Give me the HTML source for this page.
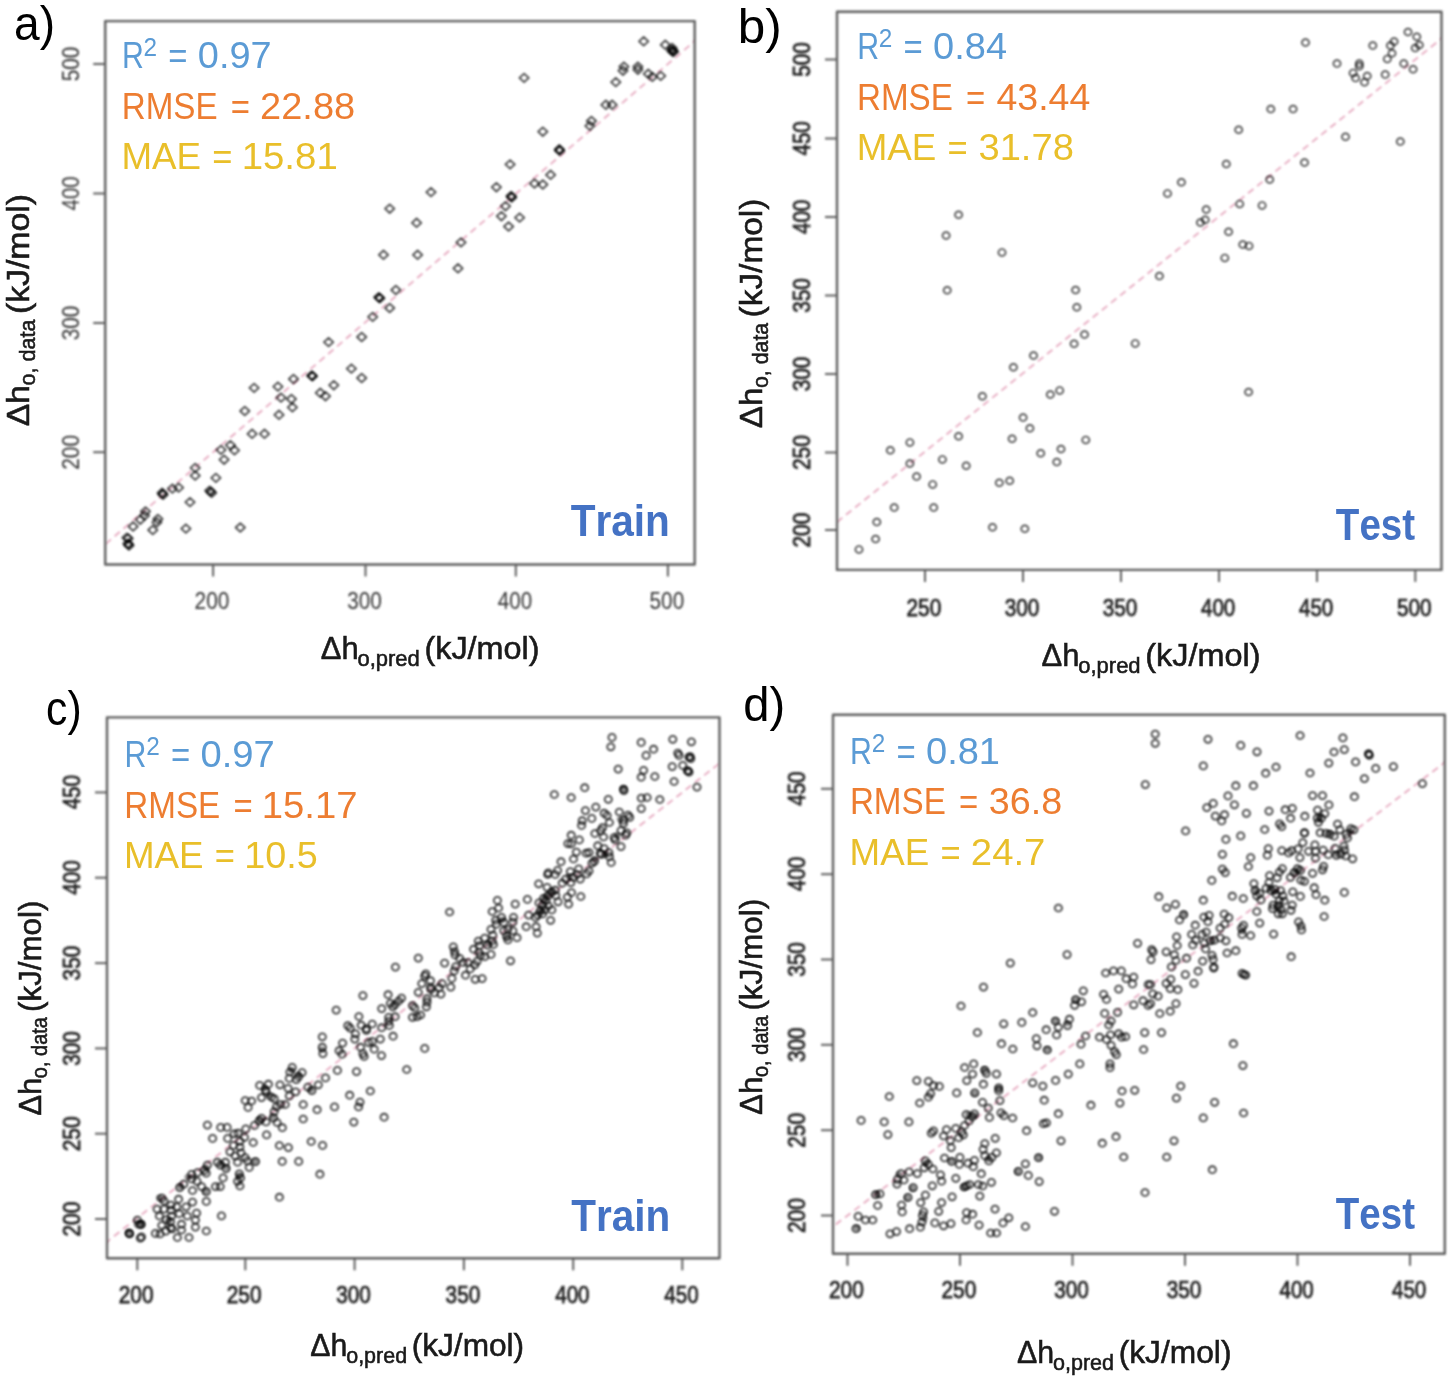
<!DOCTYPE html><html><head><meta charset="utf-8"><style>html,body{margin:0;padding:0;background:#fff;}svg{display:block;}text{font-family:"Liberation Sans", sans-serif;font-kerning:none;}svg{will-change:transform;}</style></head><body>
<svg width="1450" height="1379" viewBox="0 0 1450 1379">
<rect width="1450" height="1379" fill="#fff"/>
<defs><filter id="pb" x="-5%" y="-5%" width="110%" height="110%"><feGaussianBlur stdDeviation="0.9"/></filter><filter id="pl" filterUnits="userSpaceOnUse" x="0" y="0" width="1450" height="1379"><feGaussianBlur stdDeviation="0.9"/></filter></defs>
<defs>
<clipPath id="clipa"><rect x="105.20" y="21.10" width="589.50" height="543.40"/></clipPath>
<clipPath id="clipb"><rect x="837.00" y="11.80" width="604.50" height="558.10"/></clipPath>
<clipPath id="clipc"><rect x="107.00" y="717.40" width="612.50" height="540.90"/></clipPath>
<clipPath id="clipd"><rect x="833.00" y="714.80" width="611.80" height="539.00"/></clipPath>
</defs>
<g clip-path="url(#clipa)"><g filter="url(#pl)"><line x1="-90.10" y1="711.00" x2="971.10" y2="-194.80" stroke="#e6a9bf" stroke-width="1.8" stroke-dasharray="7 4.7"/></g></g>
<g clip-path="url(#clipb)"><g filter="url(#pl)"><line x1="434.75" y1="843.60" x2="1807.45" y2="-254.00" stroke="#e6a9bf" stroke-width="1.8" stroke-dasharray="7 4.7"/></g></g>
<g clip-path="url(#clipc)"><g filter="url(#pl)"><line x1="-301.04" y1="1560.28" x2="1228.60" y2="365.80" stroke="#e6a9bf" stroke-width="1.8" stroke-dasharray="7 4.7"/></g></g>
<g clip-path="url(#clipd)"><g filter="url(#pl)"><line x1="397.50" y1="1556.80" x2="1972.50" y2="362.25" stroke="#e6a9bf" stroke-width="1.8" stroke-dasharray="7 4.7"/></g></g>
<g filter="url(#pb)"><g fill="none" stroke="#000" stroke-opacity="0.72" stroke-width="1.80" stroke-linejoin="round">
<path d="M639.0 41.3L643.7 37.0L648.4 41.3L643.7 45.6Z"/>
<path d="M660.6 44.8L665.3 40.5L670.0 44.8L665.3 49.1Z"/>
<path d="M667.4 47.9L672.1 43.6L676.8 47.9L672.1 52.2Z"/>
<path d="M668.4 52.1L673.1 47.8L677.8 52.1L673.1 56.4Z"/>
<path d="M666.8 50.6L671.5 46.3L676.2 50.6L671.5 54.9Z"/>
<path d="M619.2 66.6L623.9 62.3L628.6 66.6L623.9 70.9Z"/>
<path d="M618.3 70.7L623.0 66.4L627.7 70.7L623.0 75.0Z"/>
<path d="M633.2 66.6L637.9 62.3L642.6 66.6L637.9 70.9Z"/>
<path d="M633.2 69.7L637.9 65.4L642.6 69.7L637.9 74.0Z"/>
<path d="M643.6 73.8L648.3 69.5L653.0 73.8L648.3 78.1Z"/>
<path d="M647.7 76.9L652.4 72.6L657.1 76.9L652.4 81.2Z"/>
<path d="M656.0 75.9L660.7 71.6L665.4 75.9L660.7 80.2Z"/>
<path d="M611.1 82.1L615.8 77.8L620.5 82.1L615.8 86.4Z"/>
<path d="M519.4 77.9L524.1 73.6L528.8 77.9L524.1 82.2Z"/>
<path d="M601.2 104.8L605.9 100.5L610.6 104.8L605.9 109.1Z"/>
<path d="M607.4 104.8L612.1 100.5L616.8 104.8L612.1 109.1Z"/>
<path d="M586.7 121.0L591.4 116.7L596.1 121.0L591.4 125.3Z"/>
<path d="M585.2 125.9L589.9 121.6L594.6 125.9L589.9 130.2Z"/>
<path d="M538.1 131.7L542.8 127.4L547.5 131.7L542.8 136.0Z"/>
<path d="M554.6 149.3L559.3 145.0L564.0 149.3L559.3 153.6Z"/>
<path d="M555.0 150.8L559.7 146.5L564.4 150.8L559.7 155.1Z"/>
<path d="M505.4 164.4L510.1 160.1L514.8 164.4L510.1 168.7Z"/>
<path d="M545.9 174.8L550.6 170.5L555.3 174.8L550.6 179.1Z"/>
<path d="M529.8 183.5L534.5 179.2L539.2 183.5L534.5 187.8Z"/>
<path d="M538.1 184.5L542.8 180.2L547.5 184.5L542.8 188.8Z"/>
<path d="M426.3 192.1L431.0 187.8L435.7 192.1L431.0 196.4Z"/>
<path d="M491.7 187.2L496.4 182.9L501.1 187.2L496.4 191.5Z"/>
<path d="M506.4 195.9L511.1 191.6L515.8 195.9L511.1 200.2Z"/>
<path d="M507.0 197.5L511.7 193.2L516.4 197.5L511.7 201.8Z"/>
<path d="M500.8 206.2L505.5 201.9L510.2 206.2L505.5 210.5Z"/>
<path d="M496.7 216.2L501.4 211.9L506.1 216.2L501.4 220.5Z"/>
<path d="M514.9 217.6L519.6 213.3L524.3 217.6L519.6 221.9Z"/>
<path d="M503.9 226.5L508.6 222.2L513.3 226.5L508.6 230.8Z"/>
<path d="M411.9 222.8L416.6 218.5L421.3 222.8L416.6 227.1Z"/>
<path d="M385.0 208.7L389.7 204.4L394.4 208.7L389.7 213.0Z"/>
<path d="M378.8 254.8L383.5 250.5L388.2 254.8L383.5 259.1Z"/>
<path d="M412.9 254.8L417.6 250.5L422.3 254.8L417.6 259.1Z"/>
<path d="M456.3 242.4L461.0 238.1L465.7 242.4L461.0 246.7Z"/>
<path d="M453.3 268.3L458.0 264.0L462.7 268.3L458.0 272.6Z"/>
<path d="M391.2 290.0L395.9 285.7L400.6 290.0L395.9 294.3Z"/>
<path d="M374.0 297.2L378.7 292.9L383.4 297.2L378.7 301.5Z"/>
<path d="M375.2 298.3L379.9 294.0L384.6 298.3L379.9 302.6Z"/>
<path d="M385.0 308.0L389.7 303.7L394.4 308.0L389.7 312.3Z"/>
<path d="M368.0 316.9L372.7 312.6L377.4 316.9L372.7 321.2Z"/>
<path d="M357.0 337.0L361.7 332.7L366.4 337.0L361.7 341.3Z"/>
<path d="M323.9 342.1L328.6 337.8L333.3 342.1L328.6 346.4Z"/>
<path d="M346.7 368.6L351.4 364.3L356.1 368.6L351.4 372.9Z"/>
<path d="M357.0 378.0L361.7 373.7L366.4 378.0L361.7 382.3Z"/>
<path d="M307.0 375.5L311.7 371.2L316.4 375.5L311.7 379.8Z"/>
<path d="M307.8 376.3L312.5 372.0L317.2 376.3L312.5 380.6Z"/>
<path d="M288.8 379.0L293.5 374.7L298.2 379.0L293.5 383.3Z"/>
<path d="M329.1 385.2L333.8 380.9L338.5 385.2L333.8 389.5Z"/>
<path d="M315.6 392.8L320.3 388.5L325.0 392.8L320.3 397.1Z"/>
<path d="M320.8 396.2L325.5 391.9L330.2 396.2L325.5 400.5Z"/>
<path d="M249.4 387.9L254.1 383.6L258.8 387.9L254.1 392.2Z"/>
<path d="M273.2 386.6L277.9 382.3L282.6 386.6L277.9 390.9Z"/>
<path d="M276.3 397.6L281.0 393.3L285.7 397.6L281.0 401.9Z"/>
<path d="M286.7 399.0L291.4 394.7L296.1 399.0L291.4 403.3Z"/>
<path d="M287.7 407.3L292.4 403.0L297.1 407.3L292.4 411.6Z"/>
<path d="M274.3 414.8L279.0 410.5L283.7 414.8L279.0 419.1Z"/>
<path d="M240.1 411.0L244.8 406.7L249.5 411.0L244.8 415.3Z"/>
<path d="M247.4 433.8L252.1 429.5L256.8 433.8L252.1 438.1Z"/>
<path d="M259.8 433.8L264.5 429.5L269.2 433.8L264.5 438.1Z"/>
<path d="M216.3 449.9L221.0 445.6L225.7 449.9L221.0 454.2Z"/>
<path d="M225.7 445.2L230.4 440.9L235.1 445.2L230.4 449.5Z"/>
<path d="M229.8 450.3L234.5 446.0L239.2 450.3L234.5 454.6Z"/>
<path d="M219.4 459.7L224.1 455.4L228.8 459.7L224.1 464.0Z"/>
<path d="M190.5 467.9L195.2 463.6L199.9 467.9L195.2 472.2Z"/>
<path d="M190.5 475.6L195.2 471.3L199.9 475.6L195.2 479.9Z"/>
<path d="M211.2 477.9L215.9 473.6L220.6 477.9L215.9 482.2Z"/>
<path d="M205.0 490.7L209.7 486.4L214.4 490.7L209.7 495.0Z"/>
<path d="M207.0 492.8L211.7 488.5L216.4 492.8L211.7 497.1Z"/>
<path d="M173.9 487.6L178.6 483.3L183.3 487.6L178.6 491.9Z"/>
<path d="M167.7 488.6L172.4 484.3L177.1 488.6L172.4 492.9Z"/>
<path d="M158.4 494.8L163.1 490.5L167.8 494.8L163.1 499.1Z"/>
<path d="M157.4 492.8L162.1 488.5L166.8 492.8L162.1 497.1Z"/>
<path d="M185.3 502.1L190.0 497.8L194.7 502.1L190.0 506.4Z"/>
<path d="M140.8 511.4L145.5 507.1L150.2 511.4L145.5 515.7Z"/>
<path d="M139.8 515.5L144.5 511.2L149.2 515.5L144.5 519.8Z"/>
<path d="M135.6 519.7L140.3 515.4L145.0 519.7L140.3 524.0Z"/>
<path d="M153.2 519.0L157.9 514.7L162.6 519.0L157.9 523.3Z"/>
<path d="M152.2 522.4L156.9 518.1L161.6 522.4L156.9 526.7Z"/>
<path d="M128.4 526.5L133.1 522.2L137.8 526.5L133.1 530.8Z"/>
<path d="M148.1 530.0L152.8 525.7L157.5 530.0L152.8 534.3Z"/>
<path d="M181.2 528.6L185.9 524.3L190.6 528.6L185.9 532.9Z"/>
<path d="M235.6 527.5L240.3 523.2L245.0 527.5L240.3 531.8Z"/>
<path d="M122.2 537.7L126.9 533.4L131.6 537.7L126.9 542.0Z"/>
<path d="M123.2 543.5L127.9 539.2L132.6 543.5L127.9 547.8Z"/>
<path d="M124.3 545.5L129.0 541.2L133.7 545.5L129.0 549.8Z"/>
<path d="M668.1 50.2L672.8 45.9L677.5 50.2L672.8 54.5Z"/>
<path d="M668.8 51.5L673.5 47.2L678.2 51.5L673.5 55.8Z"/>
<path d="M554.8 150.0L559.5 145.7L564.2 150.0L559.5 154.3Z"/>
<path d="M506.7 196.7L511.4 192.4L516.1 196.7L511.4 201.0Z"/>
<path d="M374.6 297.7L379.3 293.4L384.0 297.7L379.3 302.0Z"/>
<path d="M307.4 375.9L312.1 371.6L316.8 375.9L312.1 380.2Z"/>
<path d="M206.0 491.7L210.7 487.4L215.4 491.7L210.7 496.0Z"/>
<path d="M157.9 493.8L162.6 489.5L167.3 493.8L162.6 498.1Z"/>
<path d="M123.8 544.5L128.5 540.2L133.2 544.5L128.5 548.8Z"/>
<path d="M123.5 538.5L128.2 534.2L132.9 538.5L128.2 542.8Z"/>
</g></g>
<g filter="url(#pb)"><g fill="none" stroke="#000" stroke-opacity="0.72" stroke-width="1.70" stroke-linejoin="round">
<ellipse cx="1305.5" cy="42.5" rx="3.60" ry="3.40"/>
<ellipse cx="1372.8" cy="45.6" rx="3.60" ry="3.40"/>
<ellipse cx="1408.0" cy="32.0" rx="3.60" ry="3.40"/>
<ellipse cx="1416.8" cy="36.7" rx="3.60" ry="3.40"/>
<ellipse cx="1419.3" cy="45.0" rx="3.60" ry="3.40"/>
<ellipse cx="1415.2" cy="48.1" rx="3.60" ry="3.40"/>
<ellipse cx="1394.1" cy="41.5" rx="3.60" ry="3.40"/>
<ellipse cx="1390.4" cy="45.6" rx="3.60" ry="3.40"/>
<ellipse cx="1392.0" cy="53.3" rx="3.60" ry="3.40"/>
<ellipse cx="1387.3" cy="58.9" rx="3.60" ry="3.40"/>
<ellipse cx="1385.2" cy="74.6" rx="3.60" ry="3.40"/>
<ellipse cx="1403.8" cy="63.6" rx="3.60" ry="3.40"/>
<ellipse cx="1413.1" cy="69.2" rx="3.60" ry="3.40"/>
<ellipse cx="1337.0" cy="63.6" rx="3.60" ry="3.40"/>
<ellipse cx="1359.3" cy="63.6" rx="3.60" ry="3.40"/>
<ellipse cx="1359.3" cy="66.3" rx="3.60" ry="3.40"/>
<ellipse cx="1353.1" cy="72.9" rx="3.60" ry="3.40"/>
<ellipse cx="1355.6" cy="78.1" rx="3.60" ry="3.40"/>
<ellipse cx="1367.2" cy="76.0" rx="3.60" ry="3.40"/>
<ellipse cx="1364.5" cy="82.2" rx="3.60" ry="3.40"/>
<ellipse cx="1270.8" cy="109.1" rx="3.60" ry="3.40"/>
<ellipse cx="1293.1" cy="109.1" rx="3.60" ry="3.40"/>
<ellipse cx="1238.7" cy="129.8" rx="3.60" ry="3.40"/>
<ellipse cx="1345.5" cy="136.7" rx="3.60" ry="3.40"/>
<ellipse cx="1400.3" cy="141.6" rx="3.60" ry="3.40"/>
<ellipse cx="1226.3" cy="164.0" rx="3.60" ry="3.40"/>
<ellipse cx="1304.5" cy="162.5" rx="3.60" ry="3.40"/>
<ellipse cx="1181.4" cy="182.2" rx="3.60" ry="3.40"/>
<ellipse cx="1167.5" cy="193.4" rx="3.60" ry="3.40"/>
<ellipse cx="1269.7" cy="179.5" rx="3.60" ry="3.40"/>
<ellipse cx="1239.7" cy="203.9" rx="3.60" ry="3.40"/>
<ellipse cx="1262.1" cy="205.4" rx="3.60" ry="3.40"/>
<ellipse cx="1206.2" cy="209.5" rx="3.60" ry="3.40"/>
<ellipse cx="1205.2" cy="219.8" rx="3.60" ry="3.40"/>
<ellipse cx="1200.4" cy="222.5" rx="3.60" ry="3.40"/>
<ellipse cx="1228.6" cy="231.8" rx="3.60" ry="3.40"/>
<ellipse cx="1242.8" cy="244.5" rx="3.60" ry="3.40"/>
<ellipse cx="1249.0" cy="245.9" rx="3.60" ry="3.40"/>
<ellipse cx="1224.8" cy="257.9" rx="3.60" ry="3.40"/>
<ellipse cx="1159.4" cy="276.1" rx="3.60" ry="3.40"/>
<ellipse cx="1075.6" cy="290.0" rx="3.60" ry="3.40"/>
<ellipse cx="1076.8" cy="307.2" rx="3.60" ry="3.40"/>
<ellipse cx="1084.5" cy="334.5" rx="3.60" ry="3.40"/>
<ellipse cx="1074.1" cy="343.8" rx="3.60" ry="3.40"/>
<ellipse cx="1135.2" cy="343.4" rx="3.60" ry="3.40"/>
<ellipse cx="1248.6" cy="392.0" rx="3.60" ry="3.40"/>
<ellipse cx="1050.3" cy="394.5" rx="3.60" ry="3.40"/>
<ellipse cx="1059.7" cy="390.4" rx="3.60" ry="3.40"/>
<ellipse cx="958.6" cy="214.8" rx="3.60" ry="3.40"/>
<ellipse cx="946.1" cy="235.5" rx="3.60" ry="3.40"/>
<ellipse cx="1002.0" cy="252.4" rx="3.60" ry="3.40"/>
<ellipse cx="947.2" cy="290.3" rx="3.60" ry="3.40"/>
<ellipse cx="1033.5" cy="355.5" rx="3.60" ry="3.40"/>
<ellipse cx="1013.4" cy="367.3" rx="3.60" ry="3.40"/>
<ellipse cx="982.4" cy="396.2" rx="3.60" ry="3.40"/>
<ellipse cx="1023.1" cy="417.6" rx="3.60" ry="3.40"/>
<ellipse cx="1029.9" cy="428.3" rx="3.60" ry="3.40"/>
<ellipse cx="1012.1" cy="438.7" rx="3.60" ry="3.40"/>
<ellipse cx="958.6" cy="436.2" rx="3.60" ry="3.40"/>
<ellipse cx="909.9" cy="442.4" rx="3.60" ry="3.40"/>
<ellipse cx="890.3" cy="450.3" rx="3.60" ry="3.40"/>
<ellipse cx="909.9" cy="463.5" rx="3.60" ry="3.40"/>
<ellipse cx="916.6" cy="476.6" rx="3.60" ry="3.40"/>
<ellipse cx="942.4" cy="459.4" rx="3.60" ry="3.40"/>
<ellipse cx="966.2" cy="465.8" rx="3.60" ry="3.40"/>
<ellipse cx="932.7" cy="484.4" rx="3.60" ry="3.40"/>
<ellipse cx="999.3" cy="482.8" rx="3.60" ry="3.40"/>
<ellipse cx="1009.7" cy="480.7" rx="3.60" ry="3.40"/>
<ellipse cx="1040.7" cy="453.2" rx="3.60" ry="3.40"/>
<ellipse cx="1061.0" cy="449.0" rx="3.60" ry="3.40"/>
<ellipse cx="1056.8" cy="462.1" rx="3.60" ry="3.40"/>
<ellipse cx="1085.8" cy="439.9" rx="3.60" ry="3.40"/>
<ellipse cx="894.2" cy="507.6" rx="3.60" ry="3.40"/>
<ellipse cx="933.7" cy="507.6" rx="3.60" ry="3.40"/>
<ellipse cx="876.8" cy="522.1" rx="3.60" ry="3.40"/>
<ellipse cx="875.6" cy="539.0" rx="3.60" ry="3.40"/>
<ellipse cx="859.0" cy="549.4" rx="3.60" ry="3.40"/>
<ellipse cx="992.5" cy="527.3" rx="3.60" ry="3.40"/>
<ellipse cx="1024.8" cy="528.7" rx="3.60" ry="3.40"/>
</g></g>
<g filter="url(#pb)"><g fill="none" stroke="#000" stroke-opacity="0.76" stroke-width="1.80" stroke-linejoin="round">
<ellipse cx="279.4" cy="1145.5" rx="3.60" ry="3.45"/>
<ellipse cx="288.4" cy="1147.6" rx="3.60" ry="3.45"/>
<ellipse cx="282.2" cy="1161.4" rx="3.60" ry="3.45"/>
<ellipse cx="298.7" cy="1161.4" rx="3.60" ry="3.45"/>
<ellipse cx="279.4" cy="1197.2" rx="3.60" ry="3.45"/>
<ellipse cx="206.3" cy="1191.7" rx="3.60" ry="3.45"/>
<ellipse cx="206.3" cy="1201.4" rx="3.60" ry="3.45"/>
<ellipse cx="221.5" cy="1215.9" rx="3.60" ry="3.45"/>
<ellipse cx="206.3" cy="1231.0" rx="3.60" ry="3.45"/>
<ellipse cx="311.2" cy="1141.5" rx="3.60" ry="3.45"/>
<ellipse cx="322.6" cy="1145.4" rx="3.60" ry="3.45"/>
<ellipse cx="319.9" cy="1174.2" rx="3.60" ry="3.45"/>
<ellipse cx="325.5" cy="1077.9" rx="3.60" ry="3.45"/>
<ellipse cx="334.5" cy="1106.9" rx="3.60" ry="3.45"/>
<ellipse cx="349.7" cy="1095.2" rx="3.60" ry="3.45"/>
<ellipse cx="370.3" cy="1091.0" rx="3.60" ry="3.45"/>
<ellipse cx="360.0" cy="1102.1" rx="3.60" ry="3.45"/>
<ellipse cx="358.6" cy="1106.9" rx="3.60" ry="3.45"/>
<ellipse cx="384.1" cy="1117.2" rx="3.60" ry="3.45"/>
<ellipse cx="353.8" cy="1122.1" rx="3.60" ry="3.45"/>
<ellipse cx="424.7" cy="1048.4" rx="3.60" ry="3.45"/>
<ellipse cx="406.7" cy="1069.5" rx="3.60" ry="3.45"/>
<ellipse cx="465.5" cy="975.2" rx="3.60" ry="3.45"/>
<ellipse cx="475.2" cy="979.3" rx="3.60" ry="3.45"/>
<ellipse cx="482.1" cy="978.6" rx="3.60" ry="3.45"/>
<ellipse cx="589.0" cy="871.0" rx="3.60" ry="3.45"/>
<ellipse cx="612.0" cy="737.4" rx="3.60" ry="3.45"/>
<ellipse cx="610.8" cy="746.8" rx="3.60" ry="3.45"/>
<ellipse cx="641.2" cy="742.4" rx="3.60" ry="3.45"/>
<ellipse cx="672.8" cy="739.3" rx="3.60" ry="3.45"/>
<ellipse cx="691.4" cy="741.8" rx="3.60" ry="3.45"/>
<ellipse cx="653.6" cy="749.2" rx="3.60" ry="3.45"/>
<ellipse cx="646.1" cy="755.4" rx="3.60" ry="3.45"/>
<ellipse cx="677.8" cy="753.0" rx="3.60" ry="3.45"/>
<ellipse cx="679.0" cy="755.4" rx="3.60" ry="3.45"/>
<ellipse cx="690.2" cy="756.7" rx="3.60" ry="3.45"/>
<ellipse cx="690.8" cy="758.6" rx="3.60" ry="3.45"/>
<ellipse cx="672.2" cy="766.6" rx="3.60" ry="3.45"/>
<ellipse cx="682.8" cy="765.4" rx="3.60" ry="3.45"/>
<ellipse cx="688.3" cy="771.0" rx="3.60" ry="3.45"/>
<ellipse cx="689.0" cy="772.2" rx="3.60" ry="3.45"/>
<ellipse cx="674.1" cy="781.5" rx="3.60" ry="3.45"/>
<ellipse cx="697.0" cy="787.1" rx="3.60" ry="3.45"/>
<ellipse cx="618.2" cy="769.1" rx="3.60" ry="3.45"/>
<ellipse cx="643.6" cy="770.3" rx="3.60" ry="3.45"/>
<ellipse cx="641.2" cy="777.2" rx="3.60" ry="3.45"/>
<ellipse cx="654.8" cy="776.5" rx="3.60" ry="3.45"/>
<ellipse cx="554.3" cy="794.5" rx="3.60" ry="3.45"/>
<ellipse cx="584.7" cy="787.7" rx="3.60" ry="3.45"/>
<ellipse cx="659.8" cy="799.5" rx="3.60" ry="3.45"/>
<ellipse cx="567.9" cy="843.6" rx="3.60" ry="3.45"/>
<ellipse cx="179.7" cy="1187.6" rx="3.60" ry="3.45"/>
<ellipse cx="183.8" cy="1184.1" rx="3.60" ry="3.45"/>
<ellipse cx="192.5" cy="1190.5" rx="3.60" ry="3.45"/>
<ellipse cx="178.6" cy="1199.2" rx="3.60" ry="3.45"/>
<ellipse cx="192.5" cy="1202.1" rx="3.60" ry="3.45"/>
<ellipse cx="161.8" cy="1198.1" rx="3.60" ry="3.45"/>
<ellipse cx="164.1" cy="1201.0" rx="3.60" ry="3.45"/>
<ellipse cx="171.0" cy="1205.0" rx="3.60" ry="3.45"/>
<ellipse cx="176.8" cy="1206.8" rx="3.60" ry="3.45"/>
<ellipse cx="186.1" cy="1206.8" rx="3.60" ry="3.45"/>
<ellipse cx="157.1" cy="1209.1" rx="3.60" ry="3.45"/>
<ellipse cx="164.1" cy="1209.1" rx="3.60" ry="3.45"/>
<ellipse cx="171.0" cy="1210.2" rx="3.60" ry="3.45"/>
<ellipse cx="159.4" cy="1216.0" rx="3.60" ry="3.45"/>
<ellipse cx="171.6" cy="1216.0" rx="3.60" ry="3.45"/>
<ellipse cx="166.4" cy="1219.5" rx="3.60" ry="3.45"/>
<ellipse cx="170.5" cy="1221.8" rx="3.60" ry="3.45"/>
<ellipse cx="179.2" cy="1213.7" rx="3.60" ry="3.45"/>
<ellipse cx="187.3" cy="1216.0" rx="3.60" ry="3.45"/>
<ellipse cx="196.6" cy="1213.1" rx="3.60" ry="3.45"/>
<ellipse cx="195.4" cy="1220.1" rx="3.60" ry="3.45"/>
<ellipse cx="195.4" cy="1227.1" rx="3.60" ry="3.45"/>
<ellipse cx="181.5" cy="1224.2" rx="3.60" ry="3.45"/>
<ellipse cx="181.5" cy="1230.0" rx="3.60" ry="3.45"/>
<ellipse cx="170.5" cy="1227.6" rx="3.60" ry="3.45"/>
<ellipse cx="172.2" cy="1228.8" rx="3.60" ry="3.45"/>
<ellipse cx="165.8" cy="1231.1" rx="3.60" ry="3.45"/>
<ellipse cx="161.8" cy="1225.3" rx="3.60" ry="3.45"/>
<ellipse cx="155.4" cy="1233.4" rx="3.60" ry="3.45"/>
<ellipse cx="160.0" cy="1234.0" rx="3.60" ry="3.45"/>
<ellipse cx="177.4" cy="1237.5" rx="3.60" ry="3.45"/>
<ellipse cx="189.0" cy="1237.5" rx="3.60" ry="3.45"/>
<ellipse cx="140.9" cy="1224.7" rx="3.60" ry="3.45"/>
<ellipse cx="138.6" cy="1224.2" rx="3.60" ry="3.45"/>
<ellipse cx="137.4" cy="1220.1" rx="3.60" ry="3.45"/>
<ellipse cx="129.3" cy="1233.4" rx="3.60" ry="3.45"/>
<ellipse cx="129.6" cy="1234.0" rx="3.60" ry="3.45"/>
<ellipse cx="141.5" cy="1236.9" rx="3.60" ry="3.45"/>
<ellipse cx="140.3" cy="1238.1" rx="3.60" ry="3.45"/>
<ellipse cx="207.4" cy="1125.1" rx="3.60" ry="3.45"/>
<ellipse cx="220.7" cy="1127.4" rx="3.60" ry="3.45"/>
<ellipse cx="227.1" cy="1127.4" rx="3.60" ry="3.45"/>
<ellipse cx="212.6" cy="1138.4" rx="3.60" ry="3.45"/>
<ellipse cx="234.1" cy="1133.8" rx="3.60" ry="3.45"/>
<ellipse cx="238.1" cy="1133.2" rx="3.60" ry="3.45"/>
<ellipse cx="244.5" cy="1137.3" rx="3.60" ry="3.45"/>
<ellipse cx="227.7" cy="1138.4" rx="3.60" ry="3.45"/>
<ellipse cx="239.9" cy="1141.3" rx="3.60" ry="3.45"/>
<ellipse cx="233.5" cy="1145.4" rx="3.60" ry="3.45"/>
<ellipse cx="253.2" cy="1142.5" rx="3.60" ry="3.45"/>
<ellipse cx="266.6" cy="1134.9" rx="3.60" ry="3.45"/>
<ellipse cx="230.0" cy="1151.8" rx="3.60" ry="3.45"/>
<ellipse cx="239.9" cy="1147.1" rx="3.60" ry="3.45"/>
<ellipse cx="241.0" cy="1152.9" rx="3.60" ry="3.45"/>
<ellipse cx="235.2" cy="1155.8" rx="3.60" ry="3.45"/>
<ellipse cx="245.1" cy="1157.6" rx="3.60" ry="3.45"/>
<ellipse cx="247.4" cy="1161.0" rx="3.60" ry="3.45"/>
<ellipse cx="255.5" cy="1161.6" rx="3.60" ry="3.45"/>
<ellipse cx="249.2" cy="1167.4" rx="3.60" ry="3.45"/>
<ellipse cx="237.6" cy="1162.2" rx="3.60" ry="3.45"/>
<ellipse cx="225.4" cy="1162.2" rx="3.60" ry="3.45"/>
<ellipse cx="220.2" cy="1165.1" rx="3.60" ry="3.45"/>
<ellipse cx="226.0" cy="1168.6" rx="3.60" ry="3.45"/>
<ellipse cx="217.3" cy="1162.2" rx="3.60" ry="3.45"/>
<ellipse cx="207.4" cy="1165.1" rx="3.60" ry="3.45"/>
<ellipse cx="206.2" cy="1173.2" rx="3.60" ry="3.45"/>
<ellipse cx="204.5" cy="1170.3" rx="3.60" ry="3.45"/>
<ellipse cx="223.1" cy="1177.9" rx="3.60" ry="3.45"/>
<ellipse cx="239.3" cy="1173.8" rx="3.60" ry="3.45"/>
<ellipse cx="240.5" cy="1177.9" rx="3.60" ry="3.45"/>
<ellipse cx="237.6" cy="1181.3" rx="3.60" ry="3.45"/>
<ellipse cx="239.9" cy="1186.0" rx="3.60" ry="3.45"/>
<ellipse cx="220.2" cy="1186.6" rx="3.60" ry="3.45"/>
<ellipse cx="215.5" cy="1186.6" rx="3.60" ry="3.45"/>
<ellipse cx="197.5" cy="1172.6" rx="3.60" ry="3.45"/>
<ellipse cx="191.7" cy="1174.4" rx="3.60" ry="3.45"/>
<ellipse cx="191.7" cy="1179.0" rx="3.60" ry="3.45"/>
<ellipse cx="197.0" cy="1181.3" rx="3.60" ry="3.45"/>
<ellipse cx="201.6" cy="1186.6" rx="3.60" ry="3.45"/>
<ellipse cx="292.2" cy="1067.4" rx="3.60" ry="3.45"/>
<ellipse cx="289.9" cy="1072.0" rx="3.60" ry="3.45"/>
<ellipse cx="302.1" cy="1072.6" rx="3.60" ry="3.45"/>
<ellipse cx="298.6" cy="1076.7" rx="3.60" ry="3.45"/>
<ellipse cx="296.3" cy="1079.6" rx="3.60" ry="3.45"/>
<ellipse cx="289.3" cy="1078.4" rx="3.60" ry="3.45"/>
<ellipse cx="280.0" cy="1084.8" rx="3.60" ry="3.45"/>
<ellipse cx="288.1" cy="1088.3" rx="3.60" ry="3.45"/>
<ellipse cx="295.7" cy="1091.8" rx="3.60" ry="3.45"/>
<ellipse cx="289.3" cy="1095.8" rx="3.60" ry="3.45"/>
<ellipse cx="307.9" cy="1087.1" rx="3.60" ry="3.45"/>
<ellipse cx="311.9" cy="1090.6" rx="3.60" ry="3.45"/>
<ellipse cx="318.3" cy="1084.8" rx="3.60" ry="3.45"/>
<ellipse cx="285.2" cy="1104.5" rx="3.60" ry="3.45"/>
<ellipse cx="303.2" cy="1104.5" rx="3.60" ry="3.45"/>
<ellipse cx="317.1" cy="1109.7" rx="3.60" ry="3.45"/>
<ellipse cx="303.2" cy="1119.0" rx="3.60" ry="3.45"/>
<ellipse cx="259.7" cy="1085.4" rx="3.60" ry="3.45"/>
<ellipse cx="268.4" cy="1084.2" rx="3.60" ry="3.45"/>
<ellipse cx="265.5" cy="1090.0" rx="3.60" ry="3.45"/>
<ellipse cx="266.1" cy="1091.8" rx="3.60" ry="3.45"/>
<ellipse cx="261.5" cy="1097.6" rx="3.60" ry="3.45"/>
<ellipse cx="271.3" cy="1097.0" rx="3.60" ry="3.45"/>
<ellipse cx="274.2" cy="1098.7" rx="3.60" ry="3.45"/>
<ellipse cx="276.5" cy="1106.8" rx="3.60" ry="3.45"/>
<ellipse cx="280.6" cy="1104.5" rx="3.60" ry="3.45"/>
<ellipse cx="274.2" cy="1111.5" rx="3.60" ry="3.45"/>
<ellipse cx="245.2" cy="1100.5" rx="3.60" ry="3.45"/>
<ellipse cx="251.6" cy="1101.0" rx="3.60" ry="3.45"/>
<ellipse cx="248.1" cy="1107.4" rx="3.60" ry="3.45"/>
<ellipse cx="261.5" cy="1118.4" rx="3.60" ry="3.45"/>
<ellipse cx="259.1" cy="1120.8" rx="3.60" ry="3.45"/>
<ellipse cx="266.1" cy="1121.9" rx="3.60" ry="3.45"/>
<ellipse cx="273.6" cy="1117.9" rx="3.60" ry="3.45"/>
<ellipse cx="277.1" cy="1122.5" rx="3.60" ry="3.45"/>
<ellipse cx="282.3" cy="1127.7" rx="3.60" ry="3.45"/>
<ellipse cx="254.5" cy="1125.4" rx="3.60" ry="3.45"/>
<ellipse cx="245.8" cy="1128.9" rx="3.60" ry="3.45"/>
<ellipse cx="336.2" cy="1010.1" rx="3.60" ry="3.45"/>
<ellipse cx="362.9" cy="995.6" rx="3.60" ry="3.45"/>
<ellipse cx="358.9" cy="1016.5" rx="3.60" ry="3.45"/>
<ellipse cx="347.8" cy="1025.7" rx="3.60" ry="3.45"/>
<ellipse cx="350.2" cy="1028.1" rx="3.60" ry="3.45"/>
<ellipse cx="361.2" cy="1025.2" rx="3.60" ry="3.45"/>
<ellipse cx="366.4" cy="1028.6" rx="3.60" ry="3.45"/>
<ellipse cx="366.4" cy="1030.4" rx="3.60" ry="3.45"/>
<ellipse cx="372.2" cy="1024.0" rx="3.60" ry="3.45"/>
<ellipse cx="355.4" cy="1033.9" rx="3.60" ry="3.45"/>
<ellipse cx="354.8" cy="1039.1" rx="3.60" ry="3.45"/>
<ellipse cx="380.3" cy="1039.1" rx="3.60" ry="3.45"/>
<ellipse cx="372.2" cy="1041.4" rx="3.60" ry="3.45"/>
<ellipse cx="368.7" cy="1042.6" rx="3.60" ry="3.45"/>
<ellipse cx="393.1" cy="1036.2" rx="3.60" ry="3.45"/>
<ellipse cx="360.6" cy="1047.2" rx="3.60" ry="3.45"/>
<ellipse cx="374.2" cy="1049.2" rx="3.60" ry="3.45"/>
<ellipse cx="381.5" cy="1055.6" rx="3.60" ry="3.45"/>
<ellipse cx="364.1" cy="1056.5" rx="3.60" ry="3.45"/>
<ellipse cx="362.9" cy="1053.6" rx="3.60" ry="3.45"/>
<ellipse cx="342.6" cy="1043.1" rx="3.60" ry="3.45"/>
<ellipse cx="339.1" cy="1050.7" rx="3.60" ry="3.45"/>
<ellipse cx="342.0" cy="1054.2" rx="3.60" ry="3.45"/>
<ellipse cx="322.3" cy="1036.8" rx="3.60" ry="3.45"/>
<ellipse cx="322.3" cy="1047.2" rx="3.60" ry="3.45"/>
<ellipse cx="322.9" cy="1053.6" rx="3.60" ry="3.45"/>
<ellipse cx="337.4" cy="1070.4" rx="3.60" ry="3.45"/>
<ellipse cx="356.5" cy="1071.6" rx="3.60" ry="3.45"/>
<ellipse cx="395.4" cy="967.1" rx="3.60" ry="3.45"/>
<ellipse cx="418.3" cy="958.1" rx="3.60" ry="3.45"/>
<ellipse cx="454.2" cy="970.9" rx="3.60" ry="3.45"/>
<ellipse cx="451.9" cy="978.4" rx="3.60" ry="3.45"/>
<ellipse cx="450.8" cy="987.1" rx="3.60" ry="3.45"/>
<ellipse cx="425.8" cy="973.8" rx="3.60" ry="3.45"/>
<ellipse cx="424.7" cy="976.1" rx="3.60" ry="3.45"/>
<ellipse cx="430.5" cy="980.7" rx="3.60" ry="3.45"/>
<ellipse cx="421.8" cy="983.6" rx="3.60" ry="3.45"/>
<ellipse cx="430.5" cy="987.1" rx="3.60" ry="3.45"/>
<ellipse cx="431.0" cy="989.4" rx="3.60" ry="3.45"/>
<ellipse cx="442.1" cy="983.6" rx="3.60" ry="3.45"/>
<ellipse cx="439.2" cy="987.7" rx="3.60" ry="3.45"/>
<ellipse cx="434.5" cy="992.9" rx="3.60" ry="3.45"/>
<ellipse cx="440.9" cy="994.1" rx="3.60" ry="3.45"/>
<ellipse cx="418.3" cy="992.3" rx="3.60" ry="3.45"/>
<ellipse cx="427.0" cy="998.7" rx="3.60" ry="3.45"/>
<ellipse cx="427.0" cy="1002.2" rx="3.60" ry="3.45"/>
<ellipse cx="426.4" cy="1006.8" rx="3.60" ry="3.45"/>
<ellipse cx="412.5" cy="1005.7" rx="3.60" ry="3.45"/>
<ellipse cx="414.8" cy="1008.0" rx="3.60" ry="3.45"/>
<ellipse cx="412.5" cy="1017.3" rx="3.60" ry="3.45"/>
<ellipse cx="420.6" cy="1015.0" rx="3.60" ry="3.45"/>
<ellipse cx="417.1" cy="1016.7" rx="3.60" ry="3.45"/>
<ellipse cx="388.1" cy="994.7" rx="3.60" ry="3.45"/>
<ellipse cx="401.5" cy="998.1" rx="3.60" ry="3.45"/>
<ellipse cx="398.6" cy="1001.0" rx="3.60" ry="3.45"/>
<ellipse cx="390.4" cy="1003.4" rx="3.60" ry="3.45"/>
<ellipse cx="395.1" cy="1004.5" rx="3.60" ry="3.45"/>
<ellipse cx="392.8" cy="1006.8" rx="3.60" ry="3.45"/>
<ellipse cx="381.7" cy="1008.6" rx="3.60" ry="3.45"/>
<ellipse cx="388.7" cy="1017.3" rx="3.60" ry="3.45"/>
<ellipse cx="395.1" cy="1016.7" rx="3.60" ry="3.45"/>
<ellipse cx="389.3" cy="1025.4" rx="3.60" ry="3.45"/>
<ellipse cx="388.7" cy="1021.3" rx="3.60" ry="3.45"/>
<ellipse cx="381.7" cy="1027.7" rx="3.60" ry="3.45"/>
<ellipse cx="449.6" cy="912.0" rx="3.60" ry="3.45"/>
<ellipse cx="497.4" cy="900.4" rx="3.60" ry="3.45"/>
<ellipse cx="498.6" cy="908.0" rx="3.60" ry="3.45"/>
<ellipse cx="492.2" cy="911.5" rx="3.60" ry="3.45"/>
<ellipse cx="501.5" cy="917.3" rx="3.60" ry="3.45"/>
<ellipse cx="495.7" cy="920.2" rx="3.60" ry="3.45"/>
<ellipse cx="503.8" cy="922.5" rx="3.60" ry="3.45"/>
<ellipse cx="496.3" cy="924.2" rx="3.60" ry="3.45"/>
<ellipse cx="491.0" cy="929.4" rx="3.60" ry="3.45"/>
<ellipse cx="503.8" cy="930.6" rx="3.60" ry="3.45"/>
<ellipse cx="507.9" cy="929.4" rx="3.60" ry="3.45"/>
<ellipse cx="506.7" cy="936.4" rx="3.60" ry="3.45"/>
<ellipse cx="507.9" cy="939.9" rx="3.60" ry="3.45"/>
<ellipse cx="492.8" cy="935.2" rx="3.60" ry="3.45"/>
<ellipse cx="484.7" cy="938.1" rx="3.60" ry="3.45"/>
<ellipse cx="478.3" cy="941.0" rx="3.60" ry="3.45"/>
<ellipse cx="492.2" cy="941.0" rx="3.60" ry="3.45"/>
<ellipse cx="493.4" cy="944.5" rx="3.60" ry="3.45"/>
<ellipse cx="487.6" cy="945.1" rx="3.60" ry="3.45"/>
<ellipse cx="473.6" cy="949.2" rx="3.60" ry="3.45"/>
<ellipse cx="479.4" cy="945.7" rx="3.60" ry="3.45"/>
<ellipse cx="478.9" cy="952.1" rx="3.60" ry="3.45"/>
<ellipse cx="480.6" cy="955.5" rx="3.60" ry="3.45"/>
<ellipse cx="484.7" cy="956.7" rx="3.60" ry="3.45"/>
<ellipse cx="491.0" cy="954.4" rx="3.60" ry="3.45"/>
<ellipse cx="474.8" cy="964.8" rx="3.60" ry="3.45"/>
<ellipse cx="477.1" cy="961.3" rx="3.60" ry="3.45"/>
<ellipse cx="470.2" cy="968.9" rx="3.60" ry="3.45"/>
<ellipse cx="510.5" cy="960.8" rx="3.60" ry="3.45"/>
<ellipse cx="453.3" cy="946.8" rx="3.60" ry="3.45"/>
<ellipse cx="454.5" cy="951.5" rx="3.60" ry="3.45"/>
<ellipse cx="455.1" cy="955.0" rx="3.60" ry="3.45"/>
<ellipse cx="459.7" cy="958.4" rx="3.60" ry="3.45"/>
<ellipse cx="463.2" cy="962.5" rx="3.60" ry="3.45"/>
<ellipse cx="467.8" cy="962.5" rx="3.60" ry="3.45"/>
<ellipse cx="455.7" cy="966.6" rx="3.60" ry="3.45"/>
<ellipse cx="444.6" cy="963.1" rx="3.60" ry="3.45"/>
<ellipse cx="561.0" cy="861.7" rx="3.60" ry="3.45"/>
<ellipse cx="548.3" cy="872.8" rx="3.60" ry="3.45"/>
<ellipse cx="547.7" cy="874.5" rx="3.60" ry="3.45"/>
<ellipse cx="557.6" cy="870.4" rx="3.60" ry="3.45"/>
<ellipse cx="555.2" cy="874.5" rx="3.60" ry="3.45"/>
<ellipse cx="570.3" cy="871.6" rx="3.60" ry="3.45"/>
<ellipse cx="577.3" cy="874.5" rx="3.60" ry="3.45"/>
<ellipse cx="573.2" cy="877.4" rx="3.60" ry="3.45"/>
<ellipse cx="565.7" cy="879.1" rx="3.60" ry="3.45"/>
<ellipse cx="570.9" cy="882.6" rx="3.60" ry="3.45"/>
<ellipse cx="562.2" cy="883.2" rx="3.60" ry="3.45"/>
<ellipse cx="586.6" cy="873.9" rx="3.60" ry="3.45"/>
<ellipse cx="580.2" cy="879.1" rx="3.60" ry="3.45"/>
<ellipse cx="538.7" cy="883.8" rx="3.60" ry="3.45"/>
<ellipse cx="547.1" cy="887.3" rx="3.60" ry="3.45"/>
<ellipse cx="555.2" cy="890.2" rx="3.60" ry="3.45"/>
<ellipse cx="551.8" cy="892.5" rx="3.60" ry="3.45"/>
<ellipse cx="555.8" cy="895.4" rx="3.60" ry="3.45"/>
<ellipse cx="547.7" cy="896.0" rx="3.60" ry="3.45"/>
<ellipse cx="543.6" cy="898.3" rx="3.60" ry="3.45"/>
<ellipse cx="546.0" cy="900.6" rx="3.60" ry="3.45"/>
<ellipse cx="571.5" cy="892.5" rx="3.60" ry="3.45"/>
<ellipse cx="580.8" cy="896.5" rx="3.60" ry="3.45"/>
<ellipse cx="567.4" cy="897.1" rx="3.60" ry="3.45"/>
<ellipse cx="568.6" cy="904.1" rx="3.60" ry="3.45"/>
<ellipse cx="558.1" cy="901.8" rx="3.60" ry="3.45"/>
<ellipse cx="527.4" cy="899.4" rx="3.60" ry="3.45"/>
<ellipse cx="515.2" cy="904.1" rx="3.60" ry="3.45"/>
<ellipse cx="539.0" cy="902.9" rx="3.60" ry="3.45"/>
<ellipse cx="542.5" cy="905.2" rx="3.60" ry="3.45"/>
<ellipse cx="548.3" cy="905.8" rx="3.60" ry="3.45"/>
<ellipse cx="544.8" cy="909.9" rx="3.60" ry="3.45"/>
<ellipse cx="540.2" cy="911.0" rx="3.60" ry="3.45"/>
<ellipse cx="537.8" cy="915.1" rx="3.60" ry="3.45"/>
<ellipse cx="542.5" cy="913.9" rx="3.60" ry="3.45"/>
<ellipse cx="551.8" cy="909.9" rx="3.60" ry="3.45"/>
<ellipse cx="535.5" cy="917.4" rx="3.60" ry="3.45"/>
<ellipse cx="528.6" cy="915.1" rx="3.60" ry="3.45"/>
<ellipse cx="550.6" cy="920.3" rx="3.60" ry="3.45"/>
<ellipse cx="526.2" cy="926.7" rx="3.60" ry="3.45"/>
<ellipse cx="536.1" cy="926.7" rx="3.60" ry="3.45"/>
<ellipse cx="537.3" cy="933.1" rx="3.60" ry="3.45"/>
<ellipse cx="513.5" cy="917.4" rx="3.60" ry="3.45"/>
<ellipse cx="512.9" cy="922.1" rx="3.60" ry="3.45"/>
<ellipse cx="512.9" cy="930.8" rx="3.60" ry="3.45"/>
<ellipse cx="517.0" cy="937.7" rx="3.60" ry="3.45"/>
<ellipse cx="608.3" cy="799.3" rx="3.60" ry="3.45"/>
<ellipse cx="623.9" cy="790.6" rx="3.60" ry="3.45"/>
<ellipse cx="571.2" cy="797.5" rx="3.60" ry="3.45"/>
<ellipse cx="595.8" cy="807.1" rx="3.60" ry="3.45"/>
<ellipse cx="585.4" cy="810.6" rx="3.60" ry="3.45"/>
<ellipse cx="607.1" cy="815.5" rx="3.60" ry="3.45"/>
<ellipse cx="604.2" cy="813.2" rx="3.60" ry="3.45"/>
<ellipse cx="619.3" cy="812.0" rx="3.60" ry="3.45"/>
<ellipse cx="628.0" cy="815.0" rx="3.60" ry="3.45"/>
<ellipse cx="629.7" cy="817.3" rx="3.60" ry="3.45"/>
<ellipse cx="641.3" cy="798.1" rx="3.60" ry="3.45"/>
<ellipse cx="647.1" cy="797.5" rx="3.60" ry="3.45"/>
<ellipse cx="641.3" cy="808.6" rx="3.60" ry="3.45"/>
<ellipse cx="582.2" cy="820.7" rx="3.60" ry="3.45"/>
<ellipse cx="581.6" cy="825.4" rx="3.60" ry="3.45"/>
<ellipse cx="591.8" cy="818.4" rx="3.60" ry="3.45"/>
<ellipse cx="609.4" cy="822.5" rx="3.60" ry="3.45"/>
<ellipse cx="623.4" cy="820.2" rx="3.60" ry="3.45"/>
<ellipse cx="623.4" cy="823.6" rx="3.60" ry="3.45"/>
<ellipse cx="602.5" cy="827.7" rx="3.60" ry="3.45"/>
<ellipse cx="594.9" cy="833.5" rx="3.60" ry="3.45"/>
<ellipse cx="603.6" cy="837.0" rx="3.60" ry="3.45"/>
<ellipse cx="600.7" cy="830.6" rx="3.60" ry="3.45"/>
<ellipse cx="614.1" cy="837.6" rx="3.60" ry="3.45"/>
<ellipse cx="615.2" cy="839.9" rx="3.60" ry="3.45"/>
<ellipse cx="621.0" cy="830.6" rx="3.60" ry="3.45"/>
<ellipse cx="625.7" cy="835.2" rx="3.60" ry="3.45"/>
<ellipse cx="626.8" cy="832.9" rx="3.60" ry="3.45"/>
<ellipse cx="579.3" cy="839.9" rx="3.60" ry="3.45"/>
<ellipse cx="571.2" cy="835.2" rx="3.60" ry="3.45"/>
<ellipse cx="571.2" cy="843.9" rx="3.60" ry="3.45"/>
<ellipse cx="621.0" cy="846.6" rx="3.60" ry="3.45"/>
<ellipse cx="597.8" cy="845.7" rx="3.60" ry="3.45"/>
<ellipse cx="604.2" cy="848.6" rx="3.60" ry="3.45"/>
<ellipse cx="608.9" cy="852.6" rx="3.60" ry="3.45"/>
<ellipse cx="609.4" cy="856.7" rx="3.60" ry="3.45"/>
<ellipse cx="601.3" cy="854.4" rx="3.60" ry="3.45"/>
<ellipse cx="600.2" cy="853.2" rx="3.60" ry="3.45"/>
<ellipse cx="586.2" cy="853.2" rx="3.60" ry="3.45"/>
<ellipse cx="589.1" cy="852.6" rx="3.60" ry="3.45"/>
<ellipse cx="594.4" cy="861.3" rx="3.60" ry="3.45"/>
<ellipse cx="592.0" cy="863.1" rx="3.60" ry="3.45"/>
<ellipse cx="611.2" cy="862.5" rx="3.60" ry="3.45"/>
<ellipse cx="576.4" cy="852.1" rx="3.60" ry="3.45"/>
<ellipse cx="573.5" cy="859.0" rx="3.60" ry="3.45"/>
<ellipse cx="578.7" cy="868.9" rx="3.60" ry="3.45"/>
<ellipse cx="688.9" cy="757.1" rx="3.60" ry="3.45"/>
<ellipse cx="687.3" cy="770.7" rx="3.60" ry="3.45"/>
<ellipse cx="623.5" cy="789.0" rx="3.60" ry="3.45"/>
<ellipse cx="129.1" cy="1233.0" rx="3.60" ry="3.45"/>
<ellipse cx="141.1" cy="1224.2" rx="3.60" ry="3.45"/>
</g></g>
<g filter="url(#pb)" fill="#000" fill-opacity="0.42">
<ellipse cx="129.1" cy="1233.0" rx="3.6" ry="3.4"/>
<ellipse cx="141.1" cy="1224.2" rx="3.6" ry="3.4"/>
<ellipse cx="159.4" cy="1197.9" rx="3.6" ry="3.4"/>
<ellipse cx="169.0" cy="1220.2" rx="3.6" ry="3.4"/>
<ellipse cx="180.2" cy="1186.7" rx="3.6" ry="3.4"/>
<ellipse cx="188.1" cy="1177.2" rx="3.6" ry="3.4"/>
<ellipse cx="205.7" cy="1167.6" rx="3.6" ry="3.4"/>
<ellipse cx="205.7" cy="1191.5" rx="3.6" ry="3.4"/>
<ellipse cx="221.6" cy="1164.4" rx="3.6" ry="3.4"/>
<ellipse cx="226.4" cy="1167.6" rx="3.6" ry="3.4"/>
<ellipse cx="239.2" cy="1175.6" rx="3.6" ry="3.4"/>
<ellipse cx="259.9" cy="1119.7" rx="3.6" ry="3.4"/>
<ellipse cx="272.7" cy="1116.6" rx="3.6" ry="3.4"/>
<ellipse cx="269.5" cy="1095.8" rx="3.6" ry="3.4"/>
<ellipse cx="264.7" cy="1087.8" rx="3.6" ry="3.4"/>
<ellipse cx="298.2" cy="1075.1" rx="3.6" ry="3.4"/>
<ellipse cx="291.8" cy="1070.3" rx="3.6" ry="3.4"/>
<ellipse cx="311.0" cy="1089.4" rx="3.6" ry="3.4"/>
<ellipse cx="322.1" cy="1049.6" rx="3.6" ry="3.4"/>
<ellipse cx="255.1" cy="1161.2" rx="3.6" ry="3.4"/>
<ellipse cx="548.6" cy="894.3" rx="3.6" ry="3.4"/>
<ellipse cx="552.0" cy="891.0" rx="3.6" ry="3.4"/>
<ellipse cx="545.0" cy="898.0" rx="3.6" ry="3.4"/>
<ellipse cx="569.3" cy="876.7" rx="3.6" ry="3.4"/>
<ellipse cx="540.6" cy="910.2" rx="3.6" ry="3.4"/>
<ellipse cx="620.4" cy="819.3" rx="3.6" ry="3.4"/>
<ellipse cx="617.2" cy="835.3" rx="3.6" ry="3.4"/>
<ellipse cx="604.4" cy="854.4" rx="3.6" ry="3.4"/>
<ellipse cx="594.8" cy="859.2" rx="3.6" ry="3.4"/>
<ellipse cx="502.3" cy="919.8" rx="3.6" ry="3.4"/>
<ellipse cx="507.1" cy="937.3" rx="3.6" ry="3.4"/>
<ellipse cx="488.0" cy="943.7" rx="3.6" ry="3.4"/>
<ellipse cx="623.5" cy="789.0" rx="3.6" ry="3.4"/>
</g>
<g filter="url(#pb)"><g fill="none" stroke="#000" stroke-opacity="0.76" stroke-width="1.80" stroke-linejoin="round">
<ellipse cx="1300.1" cy="735.5" rx="3.60" ry="3.45"/>
<ellipse cx="1342.9" cy="737.9" rx="3.60" ry="3.45"/>
<ellipse cx="1344.3" cy="749.6" rx="3.60" ry="3.45"/>
<ellipse cx="1334.0" cy="752.0" rx="3.60" ry="3.45"/>
<ellipse cx="1328.8" cy="763.1" rx="3.60" ry="3.45"/>
<ellipse cx="1368.7" cy="753.9" rx="3.60" ry="3.45"/>
<ellipse cx="1369.4" cy="755.3" rx="3.60" ry="3.45"/>
<ellipse cx="1355.6" cy="761.9" rx="3.60" ry="3.45"/>
<ellipse cx="1375.7" cy="768.4" rx="3.60" ry="3.45"/>
<ellipse cx="1393.4" cy="766.6" rx="3.60" ry="3.45"/>
<ellipse cx="1364.4" cy="778.6" rx="3.60" ry="3.45"/>
<ellipse cx="1422.4" cy="783.6" rx="3.60" ry="3.45"/>
<ellipse cx="1257.0" cy="751.8" rx="3.60" ry="3.45"/>
<ellipse cx="1276.0" cy="767.0" rx="3.60" ry="3.45"/>
<ellipse cx="1265.7" cy="773.2" rx="3.60" ry="3.45"/>
<ellipse cx="1253.4" cy="785.7" rx="3.60" ry="3.45"/>
<ellipse cx="1240.7" cy="745.4" rx="3.60" ry="3.45"/>
<ellipse cx="1310.0" cy="773.0" rx="3.60" ry="3.45"/>
<ellipse cx="1246.4" cy="813.3" rx="3.60" ry="3.45"/>
<ellipse cx="1269.0" cy="811.1" rx="3.60" ry="3.45"/>
<ellipse cx="1285.2" cy="809.7" rx="3.60" ry="3.45"/>
<ellipse cx="1279.6" cy="823.9" rx="3.60" ry="3.45"/>
<ellipse cx="1281.7" cy="826.7" rx="3.60" ry="3.45"/>
<ellipse cx="1264.7" cy="829.5" rx="3.60" ry="3.45"/>
<ellipse cx="1240.7" cy="835.9" rx="3.60" ry="3.45"/>
<ellipse cx="1268.3" cy="848.6" rx="3.60" ry="3.45"/>
<ellipse cx="1155.2" cy="734.1" rx="3.60" ry="3.45"/>
<ellipse cx="1155.2" cy="743.3" rx="3.60" ry="3.45"/>
<ellipse cx="1208.0" cy="739.3" rx="3.60" ry="3.45"/>
<ellipse cx="1203.3" cy="765.9" rx="3.60" ry="3.45"/>
<ellipse cx="1145.3" cy="784.6" rx="3.60" ry="3.45"/>
<ellipse cx="1235.8" cy="785.7" rx="3.60" ry="3.45"/>
<ellipse cx="1228.0" cy="795.9" rx="3.60" ry="3.45"/>
<ellipse cx="1213.2" cy="803.4" rx="3.60" ry="3.45"/>
<ellipse cx="1206.8" cy="807.6" rx="3.60" ry="3.45"/>
<ellipse cx="1234.4" cy="804.8" rx="3.60" ry="3.45"/>
<ellipse cx="1215.3" cy="816.1" rx="3.60" ry="3.45"/>
<ellipse cx="1224.5" cy="814.7" rx="3.60" ry="3.45"/>
<ellipse cx="1221.7" cy="821.0" rx="3.60" ry="3.45"/>
<ellipse cx="1185.6" cy="830.9" rx="3.60" ry="3.45"/>
<ellipse cx="1225.9" cy="839.4" rx="3.60" ry="3.45"/>
<ellipse cx="1222.4" cy="854.3" rx="3.60" ry="3.45"/>
<ellipse cx="1324.8" cy="900.2" rx="3.60" ry="3.45"/>
<ellipse cx="1344.3" cy="892.4" rx="3.60" ry="3.45"/>
<ellipse cx="1324.1" cy="916.5" rx="3.60" ry="3.45"/>
<ellipse cx="1301.5" cy="929.9" rx="3.60" ry="3.45"/>
<ellipse cx="1273.6" cy="934.1" rx="3.60" ry="3.45"/>
<ellipse cx="1250.6" cy="935.5" rx="3.60" ry="3.45"/>
<ellipse cx="1291.2" cy="956.7" rx="3.60" ry="3.45"/>
<ellipse cx="1245.7" cy="975.1" rx="3.60" ry="3.45"/>
<ellipse cx="1222.4" cy="869.1" rx="3.60" ry="3.45"/>
<ellipse cx="1225.2" cy="872.6" rx="3.60" ry="3.45"/>
<ellipse cx="1211.8" cy="880.4" rx="3.60" ry="3.45"/>
<ellipse cx="1158.8" cy="896.7" rx="3.60" ry="3.45"/>
<ellipse cx="1151.7" cy="949.7" rx="3.60" ry="3.45"/>
<ellipse cx="1153.1" cy="951.8" rx="3.60" ry="3.45"/>
<ellipse cx="1151.0" cy="959.6" rx="3.60" ry="3.45"/>
<ellipse cx="1137.6" cy="943.3" rx="3.60" ry="3.45"/>
<ellipse cx="1105.7" cy="973.0" rx="3.60" ry="3.45"/>
<ellipse cx="1113.5" cy="970.9" rx="3.60" ry="3.45"/>
<ellipse cx="1121.3" cy="970.9" rx="3.60" ry="3.45"/>
<ellipse cx="1058.4" cy="908.0" rx="3.60" ry="3.45"/>
<ellipse cx="1067.1" cy="954.6" rx="3.60" ry="3.45"/>
<ellipse cx="1010.3" cy="963.1" rx="3.60" ry="3.45"/>
<ellipse cx="983.5" cy="987.1" rx="3.60" ry="3.45"/>
<ellipse cx="1233.4" cy="1043.7" rx="3.60" ry="3.45"/>
<ellipse cx="1242.9" cy="1065.6" rx="3.60" ry="3.45"/>
<ellipse cx="1110.0" cy="1067.7" rx="3.60" ry="3.45"/>
<ellipse cx="1068.3" cy="1074.1" rx="3.60" ry="3.45"/>
<ellipse cx="1055.6" cy="1080.4" rx="3.60" ry="3.45"/>
<ellipse cx="1042.8" cy="1086.1" rx="3.60" ry="3.45"/>
<ellipse cx="1044.2" cy="1100.2" rx="3.60" ry="3.45"/>
<ellipse cx="1058.4" cy="1113.7" rx="3.60" ry="3.45"/>
<ellipse cx="1046.4" cy="1122.8" rx="3.60" ry="3.45"/>
<ellipse cx="1090.9" cy="1105.2" rx="3.60" ry="3.45"/>
<ellipse cx="1122.0" cy="1091.0" rx="3.60" ry="3.45"/>
<ellipse cx="1134.7" cy="1090.3" rx="3.60" ry="3.45"/>
<ellipse cx="1119.9" cy="1103.1" rx="3.60" ry="3.45"/>
<ellipse cx="1180.7" cy="1086.1" rx="3.60" ry="3.45"/>
<ellipse cx="1176.4" cy="1098.1" rx="3.60" ry="3.45"/>
<ellipse cx="1214.6" cy="1102.3" rx="3.60" ry="3.45"/>
<ellipse cx="1203.3" cy="1117.9" rx="3.60" ry="3.45"/>
<ellipse cx="1243.6" cy="1113.0" rx="3.60" ry="3.45"/>
<ellipse cx="961.0" cy="1006.0" rx="3.60" ry="3.45"/>
<ellipse cx="1032.7" cy="1012.5" rx="3.60" ry="3.45"/>
<ellipse cx="1003.7" cy="1023.8" rx="3.60" ry="3.45"/>
<ellipse cx="1021.8" cy="1022.4" rx="3.60" ry="3.45"/>
<ellipse cx="977.4" cy="1032.5" rx="3.60" ry="3.45"/>
<ellipse cx="1001.5" cy="1043.7" rx="3.60" ry="3.45"/>
<ellipse cx="1012.8" cy="1049.0" rx="3.60" ry="3.45"/>
<ellipse cx="1036.3" cy="1038.6" rx="3.60" ry="3.45"/>
<ellipse cx="1037.0" cy="1045.8" rx="3.60" ry="3.45"/>
<ellipse cx="973.7" cy="1063.9" rx="3.60" ry="3.45"/>
<ellipse cx="964.6" cy="1067.5" rx="3.60" ry="3.45"/>
<ellipse cx="972.6" cy="1074.1" rx="3.60" ry="3.45"/>
<ellipse cx="966.8" cy="1080.6" rx="3.60" ry="3.45"/>
<ellipse cx="984.9" cy="1070.4" rx="3.60" ry="3.45"/>
<ellipse cx="986.3" cy="1073.3" rx="3.60" ry="3.45"/>
<ellipse cx="996.5" cy="1074.1" rx="3.60" ry="3.45"/>
<ellipse cx="983.4" cy="1084.2" rx="3.60" ry="3.45"/>
<ellipse cx="998.7" cy="1087.8" rx="3.60" ry="3.45"/>
<ellipse cx="998.7" cy="1090.7" rx="3.60" ry="3.45"/>
<ellipse cx="1032.7" cy="1082.8" rx="3.60" ry="3.45"/>
<ellipse cx="974.8" cy="1092.9" rx="3.60" ry="3.45"/>
<ellipse cx="956.7" cy="1092.9" rx="3.60" ry="3.45"/>
<ellipse cx="916.8" cy="1080.6" rx="3.60" ry="3.45"/>
<ellipse cx="928.4" cy="1081.3" rx="3.60" ry="3.45"/>
<ellipse cx="933.5" cy="1085.7" rx="3.60" ry="3.45"/>
<ellipse cx="939.3" cy="1086.4" rx="3.60" ry="3.45"/>
<ellipse cx="930.6" cy="1093.6" rx="3.60" ry="3.45"/>
<ellipse cx="928.4" cy="1097.2" rx="3.60" ry="3.45"/>
<ellipse cx="919.7" cy="1103.0" rx="3.60" ry="3.45"/>
<ellipse cx="889.3" cy="1096.5" rx="3.60" ry="3.45"/>
<ellipse cx="861.1" cy="1120.4" rx="3.60" ry="3.45"/>
<ellipse cx="884.2" cy="1121.9" rx="3.60" ry="3.45"/>
<ellipse cx="908.9" cy="1121.9" rx="3.60" ry="3.45"/>
<ellipse cx="887.9" cy="1134.6" rx="3.60" ry="3.45"/>
<ellipse cx="933.5" cy="1130.9" rx="3.60" ry="3.45"/>
<ellipse cx="931.3" cy="1133.1" rx="3.60" ry="3.45"/>
<ellipse cx="946.5" cy="1129.5" rx="3.60" ry="3.45"/>
<ellipse cx="943.6" cy="1136.0" rx="3.60" ry="3.45"/>
<ellipse cx="1038.5" cy="1157.7" rx="3.60" ry="3.45"/>
<ellipse cx="1039.2" cy="1181.6" rx="3.60" ry="3.45"/>
<ellipse cx="969.7" cy="1184.5" rx="3.60" ry="3.45"/>
<ellipse cx="978.4" cy="1184.5" rx="3.60" ry="3.45"/>
<ellipse cx="982.7" cy="1186.0" rx="3.60" ry="3.45"/>
<ellipse cx="991.4" cy="1182.3" rx="3.60" ry="3.45"/>
<ellipse cx="979.8" cy="1196.1" rx="3.60" ry="3.45"/>
<ellipse cx="875.6" cy="1194.7" rx="3.60" ry="3.45"/>
<ellipse cx="879.9" cy="1193.9" rx="3.60" ry="3.45"/>
<ellipse cx="877.7" cy="1205.5" rx="3.60" ry="3.45"/>
<ellipse cx="921.9" cy="1222.2" rx="3.60" ry="3.45"/>
<ellipse cx="920.4" cy="1227.2" rx="3.60" ry="3.45"/>
<ellipse cx="934.9" cy="1222.9" rx="3.60" ry="3.45"/>
<ellipse cx="943.6" cy="1225.8" rx="3.60" ry="3.45"/>
<ellipse cx="950.9" cy="1223.6" rx="3.60" ry="3.45"/>
<ellipse cx="972.6" cy="1214.2" rx="3.60" ry="3.45"/>
<ellipse cx="966.1" cy="1220.0" rx="3.60" ry="3.45"/>
<ellipse cx="979.1" cy="1225.1" rx="3.60" ry="3.45"/>
<ellipse cx="995.0" cy="1209.1" rx="3.60" ry="3.45"/>
<ellipse cx="1008.8" cy="1217.8" rx="3.60" ry="3.45"/>
<ellipse cx="1003.0" cy="1222.9" rx="3.60" ry="3.45"/>
<ellipse cx="1025.4" cy="1226.5" rx="3.60" ry="3.45"/>
<ellipse cx="990.7" cy="1233.0" rx="3.60" ry="3.45"/>
<ellipse cx="996.5" cy="1233.0" rx="3.60" ry="3.45"/>
<ellipse cx="858.2" cy="1216.4" rx="3.60" ry="3.45"/>
<ellipse cx="865.4" cy="1220.0" rx="3.60" ry="3.45"/>
<ellipse cx="872.7" cy="1220.0" rx="3.60" ry="3.45"/>
<ellipse cx="856.0" cy="1228.7" rx="3.60" ry="3.45"/>
<ellipse cx="890.0" cy="1233.8" rx="3.60" ry="3.45"/>
<ellipse cx="896.5" cy="1231.6" rx="3.60" ry="3.45"/>
<ellipse cx="909.6" cy="1228.7" rx="3.60" ry="3.45"/>
<ellipse cx="1043.5" cy="1123.7" rx="3.60" ry="3.45"/>
<ellipse cx="1061.0" cy="1140.8" rx="3.60" ry="3.45"/>
<ellipse cx="1102.3" cy="1143.2" rx="3.60" ry="3.45"/>
<ellipse cx="1116.0" cy="1136.7" rx="3.60" ry="3.45"/>
<ellipse cx="1123.7" cy="1157.0" rx="3.60" ry="3.45"/>
<ellipse cx="1174.0" cy="1140.8" rx="3.60" ry="3.45"/>
<ellipse cx="1166.7" cy="1157.0" rx="3.60" ry="3.45"/>
<ellipse cx="1212.3" cy="1169.7" rx="3.60" ry="3.45"/>
<ellipse cx="1145.0" cy="1192.5" rx="3.60" ry="3.45"/>
<ellipse cx="1054.5" cy="1211.3" rx="3.60" ry="3.45"/>
<ellipse cx="1250.7" cy="857.5" rx="3.60" ry="3.45"/>
<ellipse cx="1248.4" cy="866.5" rx="3.60" ry="3.45"/>
<ellipse cx="1267.3" cy="855.2" rx="3.60" ry="3.45"/>
<ellipse cx="1281.8" cy="850.6" rx="3.60" ry="3.45"/>
<ellipse cx="1288.7" cy="852.9" rx="3.60" ry="3.45"/>
<ellipse cx="1282.3" cy="868.6" rx="3.60" ry="3.45"/>
<ellipse cx="1279.4" cy="872.0" rx="3.60" ry="3.45"/>
<ellipse cx="1290.5" cy="877.3" rx="3.60" ry="3.45"/>
<ellipse cx="1300.9" cy="880.2" rx="3.60" ry="3.45"/>
<ellipse cx="1304.4" cy="881.3" rx="3.60" ry="3.45"/>
<ellipse cx="1269.6" cy="875.5" rx="3.60" ry="3.45"/>
<ellipse cx="1277.1" cy="877.8" rx="3.60" ry="3.45"/>
<ellipse cx="1269.0" cy="882.5" rx="3.60" ry="3.45"/>
<ellipse cx="1253.9" cy="883.6" rx="3.60" ry="3.45"/>
<ellipse cx="1255.1" cy="890.6" rx="3.60" ry="3.45"/>
<ellipse cx="1259.7" cy="893.5" rx="3.60" ry="3.45"/>
<ellipse cx="1256.8" cy="895.8" rx="3.60" ry="3.45"/>
<ellipse cx="1260.9" cy="899.9" rx="3.60" ry="3.45"/>
<ellipse cx="1266.1" cy="888.3" rx="3.60" ry="3.45"/>
<ellipse cx="1271.3" cy="890.6" rx="3.60" ry="3.45"/>
<ellipse cx="1274.8" cy="889.4" rx="3.60" ry="3.45"/>
<ellipse cx="1280.6" cy="890.6" rx="3.60" ry="3.45"/>
<ellipse cx="1282.9" cy="895.8" rx="3.60" ry="3.45"/>
<ellipse cx="1276.0" cy="894.1" rx="3.60" ry="3.45"/>
<ellipse cx="1292.8" cy="891.8" rx="3.60" ry="3.45"/>
<ellipse cx="1300.3" cy="896.4" rx="3.60" ry="3.45"/>
<ellipse cx="1314.2" cy="887.7" rx="3.60" ry="3.45"/>
<ellipse cx="1316.0" cy="894.7" rx="3.60" ry="3.45"/>
<ellipse cx="1279.4" cy="900.5" rx="3.60" ry="3.45"/>
<ellipse cx="1284.1" cy="901.0" rx="3.60" ry="3.45"/>
<ellipse cx="1273.1" cy="905.1" rx="3.60" ry="3.45"/>
<ellipse cx="1278.3" cy="905.7" rx="3.60" ry="3.45"/>
<ellipse cx="1272.5" cy="908.6" rx="3.60" ry="3.45"/>
<ellipse cx="1281.2" cy="909.7" rx="3.60" ry="3.45"/>
<ellipse cx="1292.2" cy="905.1" rx="3.60" ry="3.45"/>
<ellipse cx="1291.0" cy="910.3" rx="3.60" ry="3.45"/>
<ellipse cx="1278.3" cy="913.8" rx="3.60" ry="3.45"/>
<ellipse cx="1282.3" cy="913.8" rx="3.60" ry="3.45"/>
<ellipse cx="1256.8" cy="911.5" rx="3.60" ry="3.45"/>
<ellipse cx="1259.7" cy="923.1" rx="3.60" ry="3.45"/>
<ellipse cx="1243.5" cy="925.4" rx="3.60" ry="3.45"/>
<ellipse cx="1298.6" cy="921.9" rx="3.60" ry="3.45"/>
<ellipse cx="1300.9" cy="926.0" rx="3.60" ry="3.45"/>
<ellipse cx="1312.6" cy="795.6" rx="3.60" ry="3.45"/>
<ellipse cx="1322.5" cy="795.6" rx="3.60" ry="3.45"/>
<ellipse cx="1354.4" cy="796.7" rx="3.60" ry="3.45"/>
<ellipse cx="1328.9" cy="804.9" rx="3.60" ry="3.45"/>
<ellipse cx="1292.3" cy="808.3" rx="3.60" ry="3.45"/>
<ellipse cx="1304.8" cy="816.2" rx="3.60" ry="3.45"/>
<ellipse cx="1317.6" cy="810.1" rx="3.60" ry="3.45"/>
<ellipse cx="1324.8" cy="813.6" rx="3.60" ry="3.45"/>
<ellipse cx="1317.3" cy="818.2" rx="3.60" ry="3.45"/>
<ellipse cx="1321.3" cy="818.2" rx="3.60" ry="3.45"/>
<ellipse cx="1318.4" cy="822.3" rx="3.60" ry="3.45"/>
<ellipse cx="1290.6" cy="818.2" rx="3.60" ry="3.45"/>
<ellipse cx="1337.6" cy="824.0" rx="3.60" ry="3.45"/>
<ellipse cx="1339.9" cy="829.8" rx="3.60" ry="3.45"/>
<ellipse cx="1350.9" cy="828.6" rx="3.60" ry="3.45"/>
<ellipse cx="1353.8" cy="829.8" rx="3.60" ry="3.45"/>
<ellipse cx="1346.3" cy="834.4" rx="3.60" ry="3.45"/>
<ellipse cx="1347.4" cy="837.9" rx="3.60" ry="3.45"/>
<ellipse cx="1320.2" cy="832.7" rx="3.60" ry="3.45"/>
<ellipse cx="1326.0" cy="833.3" rx="3.60" ry="3.45"/>
<ellipse cx="1330.0" cy="834.4" rx="3.60" ry="3.45"/>
<ellipse cx="1334.1" cy="836.2" rx="3.60" ry="3.45"/>
<ellipse cx="1304.5" cy="832.7" rx="3.60" ry="3.45"/>
<ellipse cx="1302.8" cy="842.6" rx="3.60" ry="3.45"/>
<ellipse cx="1298.1" cy="848.9" rx="3.60" ry="3.45"/>
<ellipse cx="1291.7" cy="850.7" rx="3.60" ry="3.45"/>
<ellipse cx="1299.9" cy="857.6" rx="3.60" ry="3.45"/>
<ellipse cx="1308.6" cy="851.3" rx="3.60" ry="3.45"/>
<ellipse cx="1314.9" cy="844.9" rx="3.60" ry="3.45"/>
<ellipse cx="1315.5" cy="851.3" rx="3.60" ry="3.45"/>
<ellipse cx="1315.5" cy="858.2" rx="3.60" ry="3.45"/>
<ellipse cx="1323.1" cy="850.1" rx="3.60" ry="3.45"/>
<ellipse cx="1328.3" cy="854.7" rx="3.60" ry="3.45"/>
<ellipse cx="1335.2" cy="848.4" rx="3.60" ry="3.45"/>
<ellipse cx="1336.4" cy="855.3" rx="3.60" ry="3.45"/>
<ellipse cx="1341.0" cy="854.2" rx="3.60" ry="3.45"/>
<ellipse cx="1344.5" cy="850.1" rx="3.60" ry="3.45"/>
<ellipse cx="1343.9" cy="846.0" rx="3.60" ry="3.45"/>
<ellipse cx="1345.7" cy="855.9" rx="3.60" ry="3.45"/>
<ellipse cx="1352.6" cy="858.8" rx="3.60" ry="3.45"/>
<ellipse cx="1323.6" cy="866.3" rx="3.60" ry="3.45"/>
<ellipse cx="1322.5" cy="869.8" rx="3.60" ry="3.45"/>
<ellipse cx="1312.6" cy="873.3" rx="3.60" ry="3.45"/>
<ellipse cx="1297.5" cy="868.7" rx="3.60" ry="3.45"/>
<ellipse cx="1300.4" cy="870.4" rx="3.60" ry="3.45"/>
<ellipse cx="1294.1" cy="872.7" rx="3.60" ry="3.45"/>
<ellipse cx="1203.3" cy="900.2" rx="3.60" ry="3.45"/>
<ellipse cx="1175.4" cy="904.3" rx="3.60" ry="3.45"/>
<ellipse cx="1166.7" cy="907.8" rx="3.60" ry="3.45"/>
<ellipse cx="1232.3" cy="896.2" rx="3.60" ry="3.45"/>
<ellipse cx="1243.3" cy="898.5" rx="3.60" ry="3.45"/>
<ellipse cx="1183.6" cy="914.7" rx="3.60" ry="3.45"/>
<ellipse cx="1179.5" cy="920.0" rx="3.60" ry="3.45"/>
<ellipse cx="1203.9" cy="917.0" rx="3.60" ry="3.45"/>
<ellipse cx="1209.1" cy="915.3" rx="3.60" ry="3.45"/>
<ellipse cx="1207.9" cy="921.7" rx="3.60" ry="3.45"/>
<ellipse cx="1224.2" cy="914.1" rx="3.60" ry="3.45"/>
<ellipse cx="1228.8" cy="917.6" rx="3.60" ry="3.45"/>
<ellipse cx="1224.7" cy="924.0" rx="3.60" ry="3.45"/>
<ellipse cx="1220.1" cy="928.1" rx="3.60" ry="3.45"/>
<ellipse cx="1195.2" cy="925.2" rx="3.60" ry="3.45"/>
<ellipse cx="1191.7" cy="934.4" rx="3.60" ry="3.45"/>
<ellipse cx="1202.1" cy="934.4" rx="3.60" ry="3.45"/>
<ellipse cx="1206.2" cy="932.1" rx="3.60" ry="3.45"/>
<ellipse cx="1195.7" cy="940.2" rx="3.60" ry="3.45"/>
<ellipse cx="1192.8" cy="944.9" rx="3.60" ry="3.45"/>
<ellipse cx="1204.4" cy="943.1" rx="3.60" ry="3.45"/>
<ellipse cx="1210.2" cy="940.8" rx="3.60" ry="3.45"/>
<ellipse cx="1214.3" cy="940.2" rx="3.60" ry="3.45"/>
<ellipse cx="1220.1" cy="937.9" rx="3.60" ry="3.45"/>
<ellipse cx="1225.9" cy="940.8" rx="3.60" ry="3.45"/>
<ellipse cx="1176.6" cy="936.8" rx="3.60" ry="3.45"/>
<ellipse cx="1177.2" cy="945.5" rx="3.60" ry="3.45"/>
<ellipse cx="1205.6" cy="948.9" rx="3.60" ry="3.45"/>
<ellipse cx="1212.0" cy="955.3" rx="3.60" ry="3.45"/>
<ellipse cx="1213.1" cy="959.4" rx="3.60" ry="3.45"/>
<ellipse cx="1202.7" cy="961.1" rx="3.60" ry="3.45"/>
<ellipse cx="1213.7" cy="968.1" rx="3.60" ry="3.45"/>
<ellipse cx="1227.1" cy="953.0" rx="3.60" ry="3.45"/>
<ellipse cx="1235.8" cy="950.7" rx="3.60" ry="3.45"/>
<ellipse cx="1174.3" cy="954.7" rx="3.60" ry="3.45"/>
<ellipse cx="1176.0" cy="960.5" rx="3.60" ry="3.45"/>
<ellipse cx="1186.5" cy="958.2" rx="3.60" ry="3.45"/>
<ellipse cx="1171.4" cy="966.9" rx="3.60" ry="3.45"/>
<ellipse cx="1241.6" cy="928.1" rx="3.60" ry="3.45"/>
<ellipse cx="1242.1" cy="934.4" rx="3.60" ry="3.45"/>
<ellipse cx="1242.1" cy="973.3" rx="3.60" ry="3.45"/>
<ellipse cx="1166.2" cy="951.8" rx="3.60" ry="3.45"/>
<ellipse cx="1083.3" cy="990.8" rx="3.60" ry="3.45"/>
<ellipse cx="1075.7" cy="999.5" rx="3.60" ry="3.45"/>
<ellipse cx="1074.6" cy="1005.3" rx="3.60" ry="3.45"/>
<ellipse cx="1081.5" cy="1001.8" rx="3.60" ry="3.45"/>
<ellipse cx="1103.6" cy="994.3" rx="3.60" ry="3.45"/>
<ellipse cx="1106.5" cy="999.5" rx="3.60" ry="3.45"/>
<ellipse cx="1118.7" cy="989.1" rx="3.60" ry="3.45"/>
<ellipse cx="1104.7" cy="1013.4" rx="3.60" ry="3.45"/>
<ellipse cx="1117.5" cy="1012.3" rx="3.60" ry="3.45"/>
<ellipse cx="1111.1" cy="1021.0" rx="3.60" ry="3.45"/>
<ellipse cx="1108.8" cy="1025.0" rx="3.60" ry="3.45"/>
<ellipse cx="1099.5" cy="1037.2" rx="3.60" ry="3.45"/>
<ellipse cx="1110.5" cy="1034.9" rx="3.60" ry="3.45"/>
<ellipse cx="1106.5" cy="1039.5" rx="3.60" ry="3.45"/>
<ellipse cx="1118.7" cy="1033.7" rx="3.60" ry="3.45"/>
<ellipse cx="1121.6" cy="1037.2" rx="3.60" ry="3.45"/>
<ellipse cx="1111.1" cy="1045.3" rx="3.60" ry="3.45"/>
<ellipse cx="1114.6" cy="1051.7" rx="3.60" ry="3.45"/>
<ellipse cx="1116.3" cy="1054.6" rx="3.60" ry="3.45"/>
<ellipse cx="1085.6" cy="1036.0" rx="3.60" ry="3.45"/>
<ellipse cx="1081.0" cy="1044.2" rx="3.60" ry="3.45"/>
<ellipse cx="1055.4" cy="1021.0" rx="3.60" ry="3.45"/>
<ellipse cx="1069.4" cy="1019.2" rx="3.60" ry="3.45"/>
<ellipse cx="1067.6" cy="1025.6" rx="3.60" ry="3.45"/>
<ellipse cx="1058.3" cy="1027.3" rx="3.60" ry="3.45"/>
<ellipse cx="1056.6" cy="1034.9" rx="3.60" ry="3.45"/>
<ellipse cx="1046.2" cy="1029.7" rx="3.60" ry="3.45"/>
<ellipse cx="1047.3" cy="1050.0" rx="3.60" ry="3.45"/>
<ellipse cx="1079.8" cy="1063.9" rx="3.60" ry="3.45"/>
<ellipse cx="1110.0" cy="1063.9" rx="3.60" ry="3.45"/>
<ellipse cx="1133.7" cy="977.0" rx="3.60" ry="3.45"/>
<ellipse cx="1132.5" cy="983.9" rx="3.60" ry="3.45"/>
<ellipse cx="1126.2" cy="978.7" rx="3.60" ry="3.45"/>
<ellipse cx="1148.2" cy="984.5" rx="3.60" ry="3.45"/>
<ellipse cx="1150.5" cy="984.5" rx="3.60" ry="3.45"/>
<ellipse cx="1170.8" cy="979.3" rx="3.60" ry="3.45"/>
<ellipse cx="1166.2" cy="983.3" rx="3.60" ry="3.45"/>
<ellipse cx="1170.2" cy="988.6" rx="3.60" ry="3.45"/>
<ellipse cx="1177.8" cy="989.7" rx="3.60" ry="3.45"/>
<ellipse cx="1185.3" cy="974.6" rx="3.60" ry="3.45"/>
<ellipse cx="1198.1" cy="971.2" rx="3.60" ry="3.45"/>
<ellipse cx="1194.0" cy="983.3" rx="3.60" ry="3.45"/>
<ellipse cx="1152.8" cy="993.8" rx="3.60" ry="3.45"/>
<ellipse cx="1158.1" cy="996.1" rx="3.60" ry="3.45"/>
<ellipse cx="1143.0" cy="1000.7" rx="3.60" ry="3.45"/>
<ellipse cx="1150.5" cy="1003.6" rx="3.60" ry="3.45"/>
<ellipse cx="1148.2" cy="1005.4" rx="3.60" ry="3.45"/>
<ellipse cx="1133.7" cy="1004.8" rx="3.60" ry="3.45"/>
<ellipse cx="1176.0" cy="1003.6" rx="3.60" ry="3.45"/>
<ellipse cx="1170.2" cy="1011.2" rx="3.60" ry="3.45"/>
<ellipse cx="1159.8" cy="1013.5" rx="3.60" ry="3.45"/>
<ellipse cx="1144.7" cy="1032.6" rx="3.60" ry="3.45"/>
<ellipse cx="1161.5" cy="1032.6" rx="3.60" ry="3.45"/>
<ellipse cx="1143.6" cy="1049.5" rx="3.60" ry="3.45"/>
<ellipse cx="1125.6" cy="1036.7" rx="3.60" ry="3.45"/>
<ellipse cx="950.3" cy="1140.6" rx="3.60" ry="3.45"/>
<ellipse cx="944.5" cy="1158.0" rx="3.60" ry="3.45"/>
<ellipse cx="925.4" cy="1160.9" rx="3.60" ry="3.45"/>
<ellipse cx="928.3" cy="1164.4" rx="3.60" ry="3.45"/>
<ellipse cx="924.2" cy="1167.8" rx="3.60" ry="3.45"/>
<ellipse cx="932.9" cy="1169.0" rx="3.60" ry="3.45"/>
<ellipse cx="940.5" cy="1174.8" rx="3.60" ry="3.45"/>
<ellipse cx="941.6" cy="1181.2" rx="3.60" ry="3.45"/>
<ellipse cx="917.3" cy="1173.6" rx="3.60" ry="3.45"/>
<ellipse cx="909.1" cy="1171.9" rx="3.60" ry="3.45"/>
<ellipse cx="901.0" cy="1173.6" rx="3.60" ry="3.45"/>
<ellipse cx="897.5" cy="1179.4" rx="3.60" ry="3.45"/>
<ellipse cx="903.9" cy="1180.0" rx="3.60" ry="3.45"/>
<ellipse cx="897.0" cy="1184.1" rx="3.60" ry="3.45"/>
<ellipse cx="913.2" cy="1187.6" rx="3.60" ry="3.45"/>
<ellipse cx="932.3" cy="1185.8" rx="3.60" ry="3.45"/>
<ellipse cx="964.2" cy="1187.0" rx="3.60" ry="3.45"/>
<ellipse cx="966.6" cy="1185.8" rx="3.60" ry="3.45"/>
<ellipse cx="908.0" cy="1197.4" rx="3.60" ry="3.45"/>
<ellipse cx="901.6" cy="1205.0" rx="3.60" ry="3.45"/>
<ellipse cx="902.2" cy="1211.9" rx="3.60" ry="3.45"/>
<ellipse cx="925.4" cy="1195.1" rx="3.60" ry="3.45"/>
<ellipse cx="920.7" cy="1202.6" rx="3.60" ry="3.45"/>
<ellipse cx="941.6" cy="1202.6" rx="3.60" ry="3.45"/>
<ellipse cx="952.1" cy="1196.8" rx="3.60" ry="3.45"/>
<ellipse cx="938.7" cy="1211.3" rx="3.60" ry="3.45"/>
<ellipse cx="923.6" cy="1211.9" rx="3.60" ry="3.45"/>
<ellipse cx="922.5" cy="1215.4" rx="3.60" ry="3.45"/>
<ellipse cx="966.6" cy="1212.5" rx="3.60" ry="3.45"/>
<ellipse cx="982.5" cy="1102.3" rx="3.60" ry="3.45"/>
<ellipse cx="999.9" cy="1100.6" rx="3.60" ry="3.45"/>
<ellipse cx="988.3" cy="1108.1" rx="3.60" ry="3.45"/>
<ellipse cx="966.2" cy="1114.5" rx="3.60" ry="3.45"/>
<ellipse cx="974.4" cy="1113.9" rx="3.60" ry="3.45"/>
<ellipse cx="972.0" cy="1116.8" rx="3.60" ry="3.45"/>
<ellipse cx="969.1" cy="1120.9" rx="3.60" ry="3.45"/>
<ellipse cx="989.4" cy="1117.4" rx="3.60" ry="3.45"/>
<ellipse cx="1001.0" cy="1112.8" rx="3.60" ry="3.45"/>
<ellipse cx="1003.9" cy="1115.7" rx="3.60" ry="3.45"/>
<ellipse cx="1012.6" cy="1118.0" rx="3.60" ry="3.45"/>
<ellipse cx="1026.6" cy="1130.7" rx="3.60" ry="3.45"/>
<ellipse cx="955.8" cy="1128.4" rx="3.60" ry="3.45"/>
<ellipse cx="964.5" cy="1125.5" rx="3.60" ry="3.45"/>
<ellipse cx="961.6" cy="1131.9" rx="3.60" ry="3.45"/>
<ellipse cx="963.3" cy="1134.8" rx="3.60" ry="3.45"/>
<ellipse cx="958.7" cy="1137.7" rx="3.60" ry="3.45"/>
<ellipse cx="951.2" cy="1147.6" rx="3.60" ry="3.45"/>
<ellipse cx="995.2" cy="1138.3" rx="3.60" ry="3.45"/>
<ellipse cx="984.8" cy="1143.5" rx="3.60" ry="3.45"/>
<ellipse cx="983.1" cy="1149.3" rx="3.60" ry="3.45"/>
<ellipse cx="996.4" cy="1152.8" rx="3.60" ry="3.45"/>
<ellipse cx="984.8" cy="1155.7" rx="3.60" ry="3.45"/>
<ellipse cx="988.9" cy="1160.9" rx="3.60" ry="3.45"/>
<ellipse cx="991.8" cy="1157.4" rx="3.60" ry="3.45"/>
<ellipse cx="959.9" cy="1157.4" rx="3.60" ry="3.45"/>
<ellipse cx="951.7" cy="1161.5" rx="3.60" ry="3.45"/>
<ellipse cx="959.3" cy="1164.4" rx="3.60" ry="3.45"/>
<ellipse cx="968.0" cy="1163.2" rx="3.60" ry="3.45"/>
<ellipse cx="974.4" cy="1160.3" rx="3.60" ry="3.45"/>
<ellipse cx="973.2" cy="1166.7" rx="3.60" ry="3.45"/>
<ellipse cx="981.3" cy="1173.7" rx="3.60" ry="3.45"/>
<ellipse cx="1025.4" cy="1163.8" rx="3.60" ry="3.45"/>
<ellipse cx="1018.4" cy="1171.3" rx="3.60" ry="3.45"/>
<ellipse cx="1028.3" cy="1175.4" rx="3.60" ry="3.45"/>
<ellipse cx="955.8" cy="1178.3" rx="3.60" ry="3.45"/>
<ellipse cx="1368.5" cy="753.9" rx="3.60" ry="3.45"/>
<ellipse cx="1304.4" cy="833.1" rx="3.60" ry="3.45"/>
<ellipse cx="1213.9" cy="967.0" rx="3.60" ry="3.45"/>
<ellipse cx="1244.1" cy="974.5" rx="3.60" ry="3.45"/>
</g></g>
<g filter="url(#pb)" fill="#000" fill-opacity="0.42">
<ellipse cx="1274.3" cy="891.6" rx="3.6" ry="3.4"/>
<ellipse cx="1270.0" cy="888.0" rx="3.6" ry="3.4"/>
<ellipse cx="1295.0" cy="872.7" rx="3.6" ry="3.4"/>
<ellipse cx="1298.8" cy="870.8" rx="3.6" ry="3.4"/>
<ellipse cx="1278.0" cy="906.6" rx="3.6" ry="3.4"/>
<ellipse cx="1255.4" cy="889.7" rx="3.6" ry="3.4"/>
<ellipse cx="1319.5" cy="818.0" rx="3.6" ry="3.4"/>
<ellipse cx="1329.0" cy="833.1" rx="3.6" ry="3.4"/>
<ellipse cx="1349.7" cy="831.2" rx="3.6" ry="3.4"/>
<ellipse cx="1336.5" cy="853.9" rx="3.6" ry="3.4"/>
<ellipse cx="1212.0" cy="940.6" rx="3.6" ry="3.4"/>
<ellipse cx="1242.2" cy="931.2" rx="3.6" ry="3.4"/>
<ellipse cx="1183.8" cy="914.2" rx="3.6" ry="3.4"/>
<ellipse cx="968.3" cy="1114.6" rx="3.6" ry="3.4"/>
<ellipse cx="974.6" cy="1115.7" rx="3.6" ry="3.4"/>
<ellipse cx="951.5" cy="1160.9" rx="3.6" ry="3.4"/>
<ellipse cx="926.2" cy="1163.0" rx="3.6" ry="3.4"/>
<ellipse cx="898.9" cy="1174.6" rx="3.6" ry="3.4"/>
<ellipse cx="876.8" cy="1194.5" rx="3.6" ry="3.4"/>
<ellipse cx="856.8" cy="1228.2" rx="3.6" ry="3.4"/>
<ellipse cx="924.1" cy="1218.7" rx="3.6" ry="3.4"/>
<ellipse cx="964.1" cy="1187.2" rx="3.6" ry="3.4"/>
<ellipse cx="912.6" cy="1188.2" rx="3.6" ry="3.4"/>
<ellipse cx="907.3" cy="1197.7" rx="3.6" ry="3.4"/>
<ellipse cx="988.3" cy="1158.8" rx="3.6" ry="3.4"/>
<ellipse cx="984.1" cy="1069.4" rx="3.6" ry="3.4"/>
<ellipse cx="974.6" cy="1093.6" rx="3.6" ry="3.4"/>
<ellipse cx="1067.2" cy="1023.1" rx="3.6" ry="3.4"/>
<ellipse cx="1047.2" cy="1049.4" rx="3.6" ry="3.4"/>
<ellipse cx="1055.6" cy="1021.0" rx="3.6" ry="3.4"/>
<ellipse cx="1075.6" cy="1000.0" rx="3.6" ry="3.4"/>
<ellipse cx="1038.8" cy="1157.7" rx="3.6" ry="3.4"/>
<ellipse cx="1017.7" cy="1171.4" rx="3.6" ry="3.4"/>
<ellipse cx="998.8" cy="1088.3" rx="3.6" ry="3.4"/>
</g>
<g filter="url(#pl)">
<rect x="105.20" y="21.10" width="589.50" height="543.40" fill="none" stroke="#5e5e5e" stroke-width="2.4" stroke-linejoin="round"/>
<line x1="213.10" y1="564.50" x2="213.10" y2="576.50" stroke="#5e5e5e" stroke-width="2"/>
<line x1="365.50" y1="564.50" x2="365.50" y2="576.50" stroke="#5e5e5e" stroke-width="2"/>
<line x1="515.80" y1="564.50" x2="515.80" y2="576.50" stroke="#5e5e5e" stroke-width="2"/>
<line x1="667.90" y1="564.50" x2="667.90" y2="576.50" stroke="#5e5e5e" stroke-width="2"/>
<line x1="93.20" y1="452.20" x2="105.20" y2="452.20" stroke="#5e5e5e" stroke-width="2"/>
<line x1="93.20" y1="323.00" x2="105.20" y2="323.00" stroke="#5e5e5e" stroke-width="2"/>
<line x1="93.20" y1="193.50" x2="105.20" y2="193.50" stroke="#5e5e5e" stroke-width="2"/>
<line x1="93.20" y1="64.00" x2="105.20" y2="64.00" stroke="#5e5e5e" stroke-width="2"/>
<rect x="837.00" y="11.80" width="604.50" height="558.10" fill="none" stroke="#5e5e5e" stroke-width="2.4" stroke-linejoin="round"/>
<line x1="925.00" y1="569.90" x2="925.00" y2="581.90" stroke="#5e5e5e" stroke-width="2"/>
<line x1="1023.00" y1="569.90" x2="1023.00" y2="581.90" stroke="#5e5e5e" stroke-width="2"/>
<line x1="1121.00" y1="569.90" x2="1121.00" y2="581.90" stroke="#5e5e5e" stroke-width="2"/>
<line x1="1219.00" y1="569.90" x2="1219.00" y2="581.90" stroke="#5e5e5e" stroke-width="2"/>
<line x1="1317.00" y1="569.90" x2="1317.00" y2="581.90" stroke="#5e5e5e" stroke-width="2"/>
<line x1="1415.30" y1="569.90" x2="1415.30" y2="581.90" stroke="#5e5e5e" stroke-width="2"/>
<line x1="825.00" y1="530.00" x2="837.00" y2="530.00" stroke="#5e5e5e" stroke-width="2"/>
<line x1="825.00" y1="452.50" x2="837.00" y2="452.50" stroke="#5e5e5e" stroke-width="2"/>
<line x1="825.00" y1="374.00" x2="837.00" y2="374.00" stroke="#5e5e5e" stroke-width="2"/>
<line x1="825.00" y1="295.50" x2="837.00" y2="295.50" stroke="#5e5e5e" stroke-width="2"/>
<line x1="825.00" y1="217.00" x2="837.00" y2="217.00" stroke="#5e5e5e" stroke-width="2"/>
<line x1="825.00" y1="138.50" x2="837.00" y2="138.50" stroke="#5e5e5e" stroke-width="2"/>
<line x1="825.00" y1="59.50" x2="837.00" y2="59.50" stroke="#5e5e5e" stroke-width="2"/>
<rect x="107.00" y="717.40" width="612.50" height="540.90" fill="none" stroke="#5e5e5e" stroke-width="2.4" stroke-linejoin="round"/>
<line x1="137.30" y1="1258.30" x2="137.30" y2="1270.30" stroke="#5e5e5e" stroke-width="2"/>
<line x1="245.30" y1="1258.30" x2="245.30" y2="1270.30" stroke="#5e5e5e" stroke-width="2"/>
<line x1="354.60" y1="1258.30" x2="354.60" y2="1270.30" stroke="#5e5e5e" stroke-width="2"/>
<line x1="463.90" y1="1258.30" x2="463.90" y2="1270.30" stroke="#5e5e5e" stroke-width="2"/>
<line x1="573.20" y1="1258.30" x2="573.20" y2="1270.30" stroke="#5e5e5e" stroke-width="2"/>
<line x1="682.30" y1="1258.30" x2="682.30" y2="1270.30" stroke="#5e5e5e" stroke-width="2"/>
<line x1="95.00" y1="1219.00" x2="107.00" y2="1219.00" stroke="#5e5e5e" stroke-width="2"/>
<line x1="95.00" y1="1133.70" x2="107.00" y2="1133.70" stroke="#5e5e5e" stroke-width="2"/>
<line x1="95.00" y1="1048.40" x2="107.00" y2="1048.40" stroke="#5e5e5e" stroke-width="2"/>
<line x1="95.00" y1="963.10" x2="107.00" y2="963.10" stroke="#5e5e5e" stroke-width="2"/>
<line x1="95.00" y1="877.70" x2="107.00" y2="877.70" stroke="#5e5e5e" stroke-width="2"/>
<line x1="95.00" y1="792.40" x2="107.00" y2="792.40" stroke="#5e5e5e" stroke-width="2"/>
<rect x="833.00" y="714.80" width="611.80" height="539.00" fill="none" stroke="#5e5e5e" stroke-width="2.4" stroke-linejoin="round"/>
<line x1="847.50" y1="1253.80" x2="847.50" y2="1265.80" stroke="#5e5e5e" stroke-width="2"/>
<line x1="960.00" y1="1253.80" x2="960.00" y2="1265.80" stroke="#5e5e5e" stroke-width="2"/>
<line x1="1072.50" y1="1253.80" x2="1072.50" y2="1265.80" stroke="#5e5e5e" stroke-width="2"/>
<line x1="1185.00" y1="1253.80" x2="1185.00" y2="1265.80" stroke="#5e5e5e" stroke-width="2"/>
<line x1="1297.50" y1="1253.80" x2="1297.50" y2="1265.80" stroke="#5e5e5e" stroke-width="2"/>
<line x1="1410.00" y1="1253.80" x2="1410.00" y2="1265.80" stroke="#5e5e5e" stroke-width="2"/>
<line x1="821.00" y1="1215.50" x2="833.00" y2="1215.50" stroke="#5e5e5e" stroke-width="2"/>
<line x1="821.00" y1="1130.20" x2="833.00" y2="1130.20" stroke="#5e5e5e" stroke-width="2"/>
<line x1="821.00" y1="1044.80" x2="833.00" y2="1044.80" stroke="#5e5e5e" stroke-width="2"/>
<line x1="821.00" y1="959.50" x2="833.00" y2="959.50" stroke="#5e5e5e" stroke-width="2"/>
<line x1="821.00" y1="874.20" x2="833.00" y2="874.20" stroke="#5e5e5e" stroke-width="2"/>
<line x1="821.00" y1="788.80" x2="833.00" y2="788.80" stroke="#5e5e5e" stroke-width="2"/>
</g>
<g filter="url(#pb)">
<text x="194.55" y="609.00" font-size="23.50" fill="#303030" textLength="34.87" lengthAdjust="spacingAndGlyphs">200</text>
<text x="347.21" y="609.00" font-size="23.50" fill="#303030" textLength="34.60" lengthAdjust="spacingAndGlyphs">300</text>
<text x="497.83" y="609.00" font-size="23.50" fill="#303030" textLength="34.27" lengthAdjust="spacingAndGlyphs">400</text>
<text x="649.57" y="609.00" font-size="23.50" fill="#303030" textLength="34.64" lengthAdjust="spacingAndGlyphs">500</text>
<text transform="translate(78.90,0) rotate(-90)" x="-469.75" y="0" font-size="23.50" fill="#303030" textLength="34.87" lengthAdjust="spacingAndGlyphs">200</text>
<text transform="translate(78.90,0) rotate(-90)" x="-340.29" y="0" font-size="23.50" fill="#303030" textLength="34.60" lengthAdjust="spacingAndGlyphs">300</text>
<text transform="translate(78.90,0) rotate(-90)" x="-210.47" y="0" font-size="23.50" fill="#303030" textLength="34.27" lengthAdjust="spacingAndGlyphs">400</text>
<text transform="translate(78.90,0) rotate(-90)" x="-81.33" y="0" font-size="23.50" fill="#303030" textLength="34.64" lengthAdjust="spacingAndGlyphs">500</text>
</g>
<g filter="url(#pb)" stroke="#1e1e1e" stroke-width="0.75">
<text x="906.45" y="615.60" font-size="23.50" fill="#1e1e1e" textLength="34.87" lengthAdjust="spacingAndGlyphs">250</text>
<text x="1004.71" y="615.60" font-size="23.50" fill="#1e1e1e" textLength="34.60" lengthAdjust="spacingAndGlyphs">300</text>
<text x="1102.71" y="615.60" font-size="23.50" fill="#1e1e1e" textLength="34.60" lengthAdjust="spacingAndGlyphs">350</text>
<text x="1201.03" y="615.60" font-size="23.50" fill="#1e1e1e" textLength="34.27" lengthAdjust="spacingAndGlyphs">400</text>
<text x="1299.03" y="615.60" font-size="23.50" fill="#1e1e1e" textLength="34.27" lengthAdjust="spacingAndGlyphs">450</text>
<text x="1396.97" y="615.60" font-size="23.50" fill="#1e1e1e" textLength="34.64" lengthAdjust="spacingAndGlyphs">500</text>
<text transform="translate(809.80,0) rotate(-90)" x="-547.55" y="0" font-size="23.50" fill="#1e1e1e" textLength="34.87" lengthAdjust="spacingAndGlyphs">200</text>
<text transform="translate(809.80,0) rotate(-90)" x="-470.05" y="0" font-size="23.50" fill="#1e1e1e" textLength="34.87" lengthAdjust="spacingAndGlyphs">250</text>
<text transform="translate(809.80,0) rotate(-90)" x="-391.29" y="0" font-size="23.50" fill="#1e1e1e" textLength="34.60" lengthAdjust="spacingAndGlyphs">300</text>
<text transform="translate(809.80,0) rotate(-90)" x="-312.79" y="0" font-size="23.50" fill="#1e1e1e" textLength="34.60" lengthAdjust="spacingAndGlyphs">350</text>
<text transform="translate(809.80,0) rotate(-90)" x="-233.97" y="0" font-size="23.50" fill="#1e1e1e" textLength="34.27" lengthAdjust="spacingAndGlyphs">400</text>
<text transform="translate(809.80,0) rotate(-90)" x="-155.47" y="0" font-size="23.50" fill="#1e1e1e" textLength="34.27" lengthAdjust="spacingAndGlyphs">450</text>
<text transform="translate(809.80,0) rotate(-90)" x="-76.83" y="0" font-size="23.50" fill="#1e1e1e" textLength="34.64" lengthAdjust="spacingAndGlyphs">500</text>
</g>
<g filter="url(#pb)" stroke="#1e1e1e" stroke-width="0.75">
<text x="118.75" y="1303.00" font-size="23.50" fill="#1e1e1e" textLength="34.87" lengthAdjust="spacingAndGlyphs">200</text>
<text x="226.75" y="1303.00" font-size="23.50" fill="#1e1e1e" textLength="34.87" lengthAdjust="spacingAndGlyphs">250</text>
<text x="336.31" y="1303.00" font-size="23.50" fill="#1e1e1e" textLength="34.60" lengthAdjust="spacingAndGlyphs">300</text>
<text x="445.61" y="1303.00" font-size="23.50" fill="#1e1e1e" textLength="34.60" lengthAdjust="spacingAndGlyphs">350</text>
<text x="555.23" y="1303.00" font-size="23.50" fill="#1e1e1e" textLength="34.27" lengthAdjust="spacingAndGlyphs">400</text>
<text x="664.33" y="1303.00" font-size="23.50" fill="#1e1e1e" textLength="34.27" lengthAdjust="spacingAndGlyphs">450</text>
<text transform="translate(79.50,0) rotate(-90)" x="-1236.55" y="0" font-size="23.50" fill="#1e1e1e" textLength="34.87" lengthAdjust="spacingAndGlyphs">200</text>
<text transform="translate(79.50,0) rotate(-90)" x="-1151.25" y="0" font-size="23.50" fill="#1e1e1e" textLength="34.87" lengthAdjust="spacingAndGlyphs">250</text>
<text transform="translate(79.50,0) rotate(-90)" x="-1065.69" y="0" font-size="23.50" fill="#1e1e1e" textLength="34.60" lengthAdjust="spacingAndGlyphs">300</text>
<text transform="translate(79.50,0) rotate(-90)" x="-980.39" y="0" font-size="23.50" fill="#1e1e1e" textLength="34.60" lengthAdjust="spacingAndGlyphs">350</text>
<text transform="translate(79.50,0) rotate(-90)" x="-894.67" y="0" font-size="23.50" fill="#1e1e1e" textLength="34.27" lengthAdjust="spacingAndGlyphs">400</text>
<text transform="translate(79.50,0) rotate(-90)" x="-809.37" y="0" font-size="23.50" fill="#1e1e1e" textLength="34.27" lengthAdjust="spacingAndGlyphs">450</text>
</g>
<g filter="url(#pb)" stroke="#1e1e1e" stroke-width="0.75">
<text x="828.95" y="1297.60" font-size="23.50" fill="#1e1e1e" textLength="34.87" lengthAdjust="spacingAndGlyphs">200</text>
<text x="941.45" y="1297.60" font-size="23.50" fill="#1e1e1e" textLength="34.87" lengthAdjust="spacingAndGlyphs">250</text>
<text x="1054.21" y="1297.60" font-size="23.50" fill="#1e1e1e" textLength="34.60" lengthAdjust="spacingAndGlyphs">300</text>
<text x="1166.71" y="1297.60" font-size="23.50" fill="#1e1e1e" textLength="34.60" lengthAdjust="spacingAndGlyphs">350</text>
<text x="1279.53" y="1297.60" font-size="23.50" fill="#1e1e1e" textLength="34.27" lengthAdjust="spacingAndGlyphs">400</text>
<text x="1392.03" y="1297.60" font-size="23.50" fill="#1e1e1e" textLength="34.27" lengthAdjust="spacingAndGlyphs">450</text>
<text transform="translate(804.50,0) rotate(-90)" x="-1233.05" y="0" font-size="23.50" fill="#1e1e1e" textLength="34.87" lengthAdjust="spacingAndGlyphs">200</text>
<text transform="translate(804.50,0) rotate(-90)" x="-1147.75" y="0" font-size="23.50" fill="#1e1e1e" textLength="34.87" lengthAdjust="spacingAndGlyphs">250</text>
<text transform="translate(804.50,0) rotate(-90)" x="-1062.09" y="0" font-size="23.50" fill="#1e1e1e" textLength="34.60" lengthAdjust="spacingAndGlyphs">300</text>
<text transform="translate(804.50,0) rotate(-90)" x="-976.79" y="0" font-size="23.50" fill="#1e1e1e" textLength="34.60" lengthAdjust="spacingAndGlyphs">350</text>
<text transform="translate(804.50,0) rotate(-90)" x="-891.17" y="0" font-size="23.50" fill="#1e1e1e" textLength="34.27" lengthAdjust="spacingAndGlyphs">400</text>
<text transform="translate(804.50,0) rotate(-90)" x="-805.77" y="0" font-size="23.50" fill="#1e1e1e" textLength="34.27" lengthAdjust="spacingAndGlyphs">450</text>
</g>
<text x="121.91" y="68.00" font-size="37.21" fill="#5b9bd5" textLength="21.89" lengthAdjust="spacingAndGlyphs">R</text>
<text x="143.57" y="56.00" font-size="24.93" fill="#5b9bd5" textLength="13.55" lengthAdjust="spacingAndGlyphs">2</text>
<text x="168.29" y="68.00" font-size="37.21" fill="#5b9bd5" textLength="19.23" lengthAdjust="spacingAndGlyphs">=</text>
<text x="197.82" y="68.00" font-size="37.21" fill="#5b9bd5" textLength="73.79" lengthAdjust="spacingAndGlyphs">0.97</text>
<text x="121.68" y="118.90" font-size="37.21" fill="#ed7d31" textLength="95.95" lengthAdjust="spacingAndGlyphs">RMSE</text>
<text x="230.79" y="118.90" font-size="37.21" fill="#ed7d31" textLength="19.23" lengthAdjust="spacingAndGlyphs">=</text>
<text x="260.09" y="118.90" font-size="37.21" fill="#ed7d31" textLength="95.06" lengthAdjust="spacingAndGlyphs">22.88</text>
<text x="121.39" y="169.00" font-size="37.21" fill="#e9bf2a" textLength="79.59" lengthAdjust="spacingAndGlyphs">MAE</text>
<text x="212.21" y="169.00" font-size="37.21" fill="#e9bf2a" textLength="20.19" lengthAdjust="spacingAndGlyphs">=</text>
<text x="241.67" y="169.00" font-size="37.21" fill="#e9bf2a" textLength="96.10" lengthAdjust="spacingAndGlyphs">15.81</text>
<text x="857.21" y="59.10" font-size="37.21" fill="#5b9bd5" textLength="21.89" lengthAdjust="spacingAndGlyphs">R</text>
<text x="878.87" y="47.10" font-size="24.93" fill="#5b9bd5" textLength="13.55" lengthAdjust="spacingAndGlyphs">2</text>
<text x="903.59" y="59.10" font-size="37.21" fill="#5b9bd5" textLength="19.23" lengthAdjust="spacingAndGlyphs">=</text>
<text x="933.12" y="59.10" font-size="37.21" fill="#5b9bd5" textLength="73.90" lengthAdjust="spacingAndGlyphs">0.84</text>
<text x="856.98" y="109.70" font-size="37.21" fill="#ed7d31" textLength="95.95" lengthAdjust="spacingAndGlyphs">RMSE</text>
<text x="966.09" y="109.70" font-size="37.21" fill="#ed7d31" textLength="19.23" lengthAdjust="spacingAndGlyphs">=</text>
<text x="996.44" y="109.70" font-size="37.21" fill="#ed7d31" textLength="93.86" lengthAdjust="spacingAndGlyphs">43.44</text>
<text x="856.69" y="160.20" font-size="37.21" fill="#e9bf2a" textLength="79.59" lengthAdjust="spacingAndGlyphs">MAE</text>
<text x="947.51" y="160.20" font-size="37.21" fill="#e9bf2a" textLength="20.19" lengthAdjust="spacingAndGlyphs">=</text>
<text x="978.45" y="160.20" font-size="37.21" fill="#e9bf2a" textLength="95.41" lengthAdjust="spacingAndGlyphs">31.78</text>
<text x="124.51" y="767.30" font-size="37.21" fill="#5b9bd5" textLength="21.89" lengthAdjust="spacingAndGlyphs">R</text>
<text x="146.17" y="755.30" font-size="24.93" fill="#5b9bd5" textLength="13.55" lengthAdjust="spacingAndGlyphs">2</text>
<text x="170.89" y="767.30" font-size="37.21" fill="#5b9bd5" textLength="19.23" lengthAdjust="spacingAndGlyphs">=</text>
<text x="200.41" y="767.30" font-size="37.21" fill="#5b9bd5" textLength="74.31" lengthAdjust="spacingAndGlyphs">0.97</text>
<text x="124.28" y="817.90" font-size="37.21" fill="#ed7d31" textLength="95.95" lengthAdjust="spacingAndGlyphs">RMSE</text>
<text x="233.39" y="817.90" font-size="37.21" fill="#ed7d31" textLength="19.23" lengthAdjust="spacingAndGlyphs">=</text>
<text x="261.68" y="817.90" font-size="37.21" fill="#ed7d31" textLength="95.84" lengthAdjust="spacingAndGlyphs">15.17</text>
<text x="123.99" y="868.40" font-size="37.21" fill="#e9bf2a" textLength="79.59" lengthAdjust="spacingAndGlyphs">MAE</text>
<text x="214.81" y="868.40" font-size="37.21" fill="#e9bf2a" textLength="20.19" lengthAdjust="spacingAndGlyphs">=</text>
<text x="244.32" y="868.40" font-size="37.21" fill="#e9bf2a" textLength="73.46" lengthAdjust="spacingAndGlyphs">10.5</text>
<text x="850.11" y="763.60" font-size="37.21" fill="#5b9bd5" textLength="21.89" lengthAdjust="spacingAndGlyphs">R</text>
<text x="871.77" y="751.60" font-size="24.93" fill="#5b9bd5" textLength="13.55" lengthAdjust="spacingAndGlyphs">2</text>
<text x="896.49" y="763.60" font-size="37.21" fill="#5b9bd5" textLength="19.23" lengthAdjust="spacingAndGlyphs">=</text>
<text x="926.01" y="763.60" font-size="37.21" fill="#5b9bd5" textLength="74.04" lengthAdjust="spacingAndGlyphs">0.81</text>
<text x="849.88" y="814.30" font-size="37.21" fill="#ed7d31" textLength="95.95" lengthAdjust="spacingAndGlyphs">RMSE</text>
<text x="958.99" y="814.30" font-size="37.21" fill="#ed7d31" textLength="19.23" lengthAdjust="spacingAndGlyphs">=</text>
<text x="988.76" y="814.30" font-size="37.21" fill="#ed7d31" textLength="73.37" lengthAdjust="spacingAndGlyphs">36.8</text>
<text x="849.59" y="864.50" font-size="37.21" fill="#e9bf2a" textLength="79.59" lengthAdjust="spacingAndGlyphs">MAE</text>
<text x="940.41" y="864.50" font-size="37.21" fill="#e9bf2a" textLength="20.19" lengthAdjust="spacingAndGlyphs">=</text>
<text x="970.87" y="864.50" font-size="37.21" fill="#e9bf2a" textLength="74.55" lengthAdjust="spacingAndGlyphs">24.7</text>
<text x="570.74" y="535.50" font-size="43.60" fill="#4472c4" textLength="99.17" lengthAdjust="spacingAndGlyphs" font-weight="bold">Train</text>
<text x="1335.87" y="539.50" font-size="43.60" fill="#4472c4" textLength="79.20" lengthAdjust="spacingAndGlyphs" font-weight="bold">Test</text>
<text x="571.25" y="1231.20" font-size="43.60" fill="#4472c4" textLength="98.96" lengthAdjust="spacingAndGlyphs" font-weight="bold">Train</text>
<text x="1335.87" y="1229.10" font-size="43.60" fill="#4472c4" textLength="79.10" lengthAdjust="spacingAndGlyphs" font-weight="bold">Test</text>
<text x="14.04" y="40.40" font-size="49.00" fill="#000" textLength="41.02" lengthAdjust="spacingAndGlyphs">a)</text>
<text x="737.81" y="42.60" font-size="49.00" fill="#000" textLength="43.95" lengthAdjust="spacingAndGlyphs">b)</text>
<text x="46.09" y="725.40" font-size="49.00" fill="#000" textLength="35.56" lengthAdjust="spacingAndGlyphs">c)</text>
<text x="743.32" y="720.60" font-size="49.00" fill="#000" textLength="41.90" lengthAdjust="spacingAndGlyphs">d)</text>
<g stroke="#1a1a1a" stroke-width="0.55">
<text x="320.78" y="658.80" font-size="31.00" fill="#1a1a1a" textLength="37.88" lengthAdjust="spacingAndGlyphs">Δh</text>
<text x="357.53" y="665.80" font-size="21.50" fill="#1a1a1a" textLength="62.25" lengthAdjust="spacingAndGlyphs">o,pred</text>
<text x="424.45" y="658.80" font-size="30.50" fill="#1a1a1a" textLength="115.06" lengthAdjust="spacingAndGlyphs">(kJ/mol)</text>
<text x="1041.48" y="665.70" font-size="31.00" fill="#1a1a1a" textLength="37.94" lengthAdjust="spacingAndGlyphs">Δh</text>
<text x="1078.28" y="672.70" font-size="21.50" fill="#1a1a1a" textLength="62.34" lengthAdjust="spacingAndGlyphs">o,pred</text>
<text x="1145.29" y="665.70" font-size="30.50" fill="#1a1a1a" textLength="115.22" lengthAdjust="spacingAndGlyphs">(kJ/mol)</text>
<text x="310.30" y="1355.70" font-size="31.00" fill="#1a1a1a" textLength="37.04" lengthAdjust="spacingAndGlyphs">Δh</text>
<text x="346.23" y="1362.70" font-size="21.50" fill="#1a1a1a" textLength="60.87" lengthAdjust="spacingAndGlyphs">o,pred</text>
<text x="411.66" y="1355.70" font-size="30.50" fill="#1a1a1a" textLength="112.50" lengthAdjust="spacingAndGlyphs">(kJ/mol)</text>
<text x="1017.00" y="1362.90" font-size="31.00" fill="#1a1a1a" textLength="37.15" lengthAdjust="spacingAndGlyphs">Δh</text>
<text x="1053.03" y="1369.90" font-size="21.50" fill="#1a1a1a" textLength="61.04" lengthAdjust="spacingAndGlyphs">o,pred</text>
<text x="1118.65" y="1362.90" font-size="30.50" fill="#1a1a1a" textLength="112.82" lengthAdjust="spacingAndGlyphs">(kJ/mol)</text>
</g>
<g stroke="#1a1a1a" stroke-width="0.55">
<text transform="translate(29.20,0) rotate(-90)" x="-426.30" y="0" font-size="31.00" fill="#1a1a1a" textLength="41.19" lengthAdjust="spacingAndGlyphs">Δh</text>
<text transform="translate(35.20,0) rotate(-90)" x="-385.61" y="0" font-size="21.50" fill="#1a1a1a" textLength="66.01" lengthAdjust="spacingAndGlyphs">o, data</text>
<text transform="translate(29.20,0) rotate(-90)" x="-314.10" y="0" font-size="30.50" fill="#1a1a1a" textLength="120.19" lengthAdjust="spacingAndGlyphs">(kJ/mol)</text>
<text transform="translate(762.10,0) rotate(-90)" x="-428.19" y="0" font-size="31.00" fill="#1a1a1a" textLength="40.67" lengthAdjust="spacingAndGlyphs">Δh</text>
<text transform="translate(768.10,0) rotate(-90)" x="-388.01" y="0" font-size="21.50" fill="#1a1a1a" textLength="65.17" lengthAdjust="spacingAndGlyphs">o, data</text>
<text transform="translate(762.10,0) rotate(-90)" x="-317.40" y="0" font-size="30.50" fill="#1a1a1a" textLength="118.67" lengthAdjust="spacingAndGlyphs">(kJ/mol)</text>
<text transform="translate(41.10,0) rotate(-90)" x="-1115.83" y="0" font-size="31.00" fill="#1a1a1a" textLength="38.13" lengthAdjust="spacingAndGlyphs">Δh</text>
<text transform="translate(47.10,0) rotate(-90)" x="-1078.15" y="0" font-size="21.50" fill="#1a1a1a" textLength="61.11" lengthAdjust="spacingAndGlyphs">o, data</text>
<text transform="translate(41.10,0) rotate(-90)" x="-1011.94" y="0" font-size="30.50" fill="#1a1a1a" textLength="111.28" lengthAdjust="spacingAndGlyphs">(kJ/mol)</text>
<text transform="translate(761.70,0) rotate(-90)" x="-1114.93" y="0" font-size="31.00" fill="#1a1a1a" textLength="38.30" lengthAdjust="spacingAndGlyphs">Δh</text>
<text transform="translate(767.70,0) rotate(-90)" x="-1077.09" y="0" font-size="21.50" fill="#1a1a1a" textLength="61.37" lengthAdjust="spacingAndGlyphs">o, data</text>
<text transform="translate(761.70,0) rotate(-90)" x="-1010.60" y="0" font-size="30.50" fill="#1a1a1a" textLength="111.75" lengthAdjust="spacingAndGlyphs">(kJ/mol)</text>
</g>
</svg></body></html>
